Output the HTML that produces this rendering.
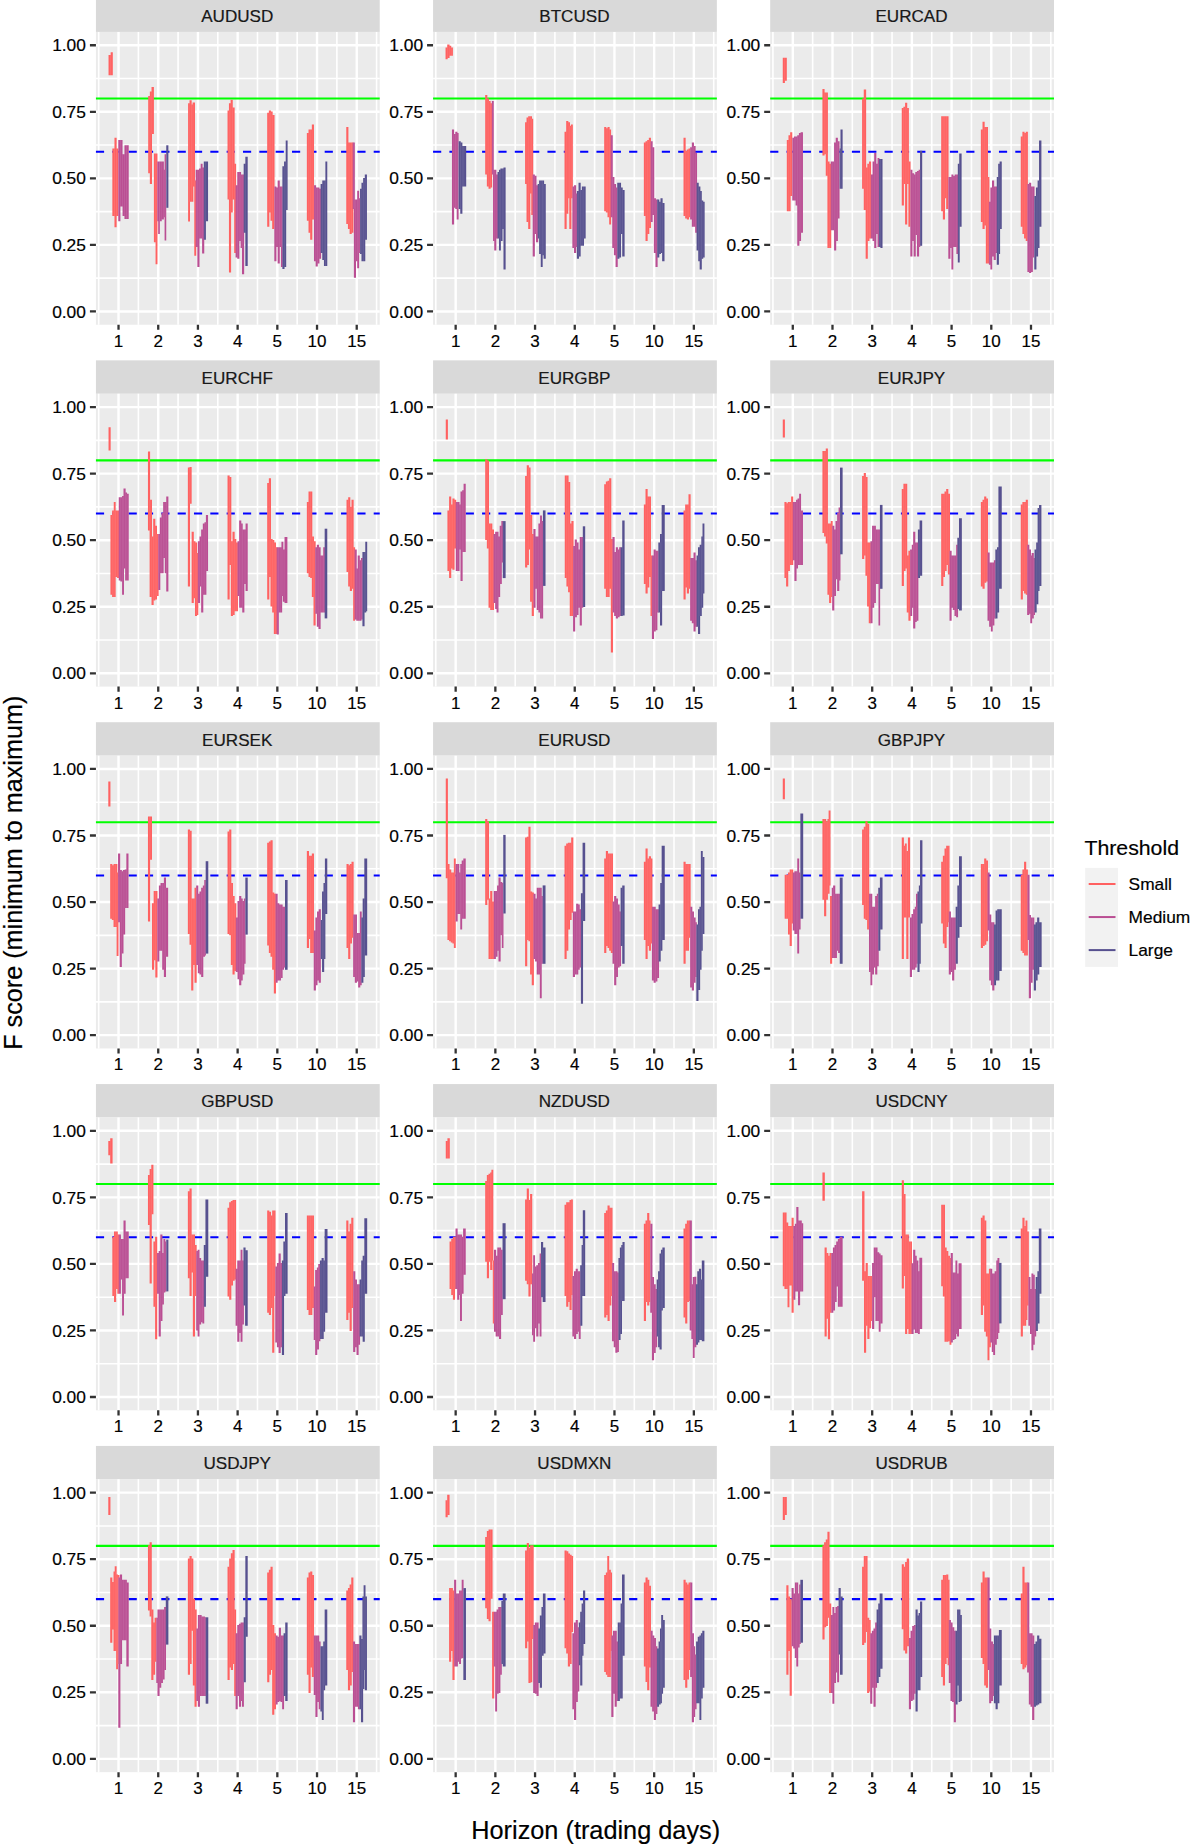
<!DOCTYPE html>
<html><head><meta charset="utf-8"><title>F score</title>
<style>html,body{margin:0;padding:0;background:#fff;}svg{display:block;}svg text{font-family:"Liberation Sans",sans-serif;stroke:#000;stroke-width:0.18px;}</style>
</head><body>
<svg width="1200" height="1845" viewBox="0 0 1200 1845" font-family="Liberation Sans, sans-serif">
<rect width="1200" height="1845" fill="#fff"/>
<g>
<rect x="95.93" y="-1.50" width="283.80" height="33.42" fill="#D9D9D9"/>
<text transform="translate(237.23,21.90) scale(1.03,1)" font-size="16.6" fill="#1A1A1A" text-anchor="middle">AUDUSD</text>
<rect x="95.93" y="31.92" width="283.80" height="292.82" fill="#EBEBEB"/>
<path d="M95.93 278.15H379.73M95.93 211.60H379.73M95.93 145.05H379.73M95.93 78.50H379.73M98.68 31.92V324.74M138.38 31.92V324.74M178.08 31.92V324.74M217.78 31.92V324.74M257.48 31.92V324.74M297.18 31.92V324.74M336.88 31.92V324.74M376.58 31.92V324.74" stroke="#fff" stroke-width="1.6" fill="none"/>
<path d="M95.93 311.43H379.73M95.93 244.88H379.73M95.93 178.33H379.73M95.93 111.78H379.73M95.93 45.23H379.73M118.53 31.92V324.74M158.23 31.92V324.74M197.93 31.92V324.74M237.63 31.92V324.74M277.33 31.92V324.74M317.03 31.92V324.74M356.73 31.92V324.74" stroke="#fff" stroke-width="2.4" fill="none"/>
<path d="M95.93 98.47H379.73" stroke="#00FF00" stroke-width="2.1" fill="none"/>
<path d="M95.93 151.71H379.73" stroke="#0000FF" stroke-width="2.1" stroke-dasharray="8.17 8.17" fill="none"/>
<path d="M108.54 55.0H110.67V75.2H108.54ZM110.67 52.2H112.81V75.2H110.67ZM112.34 148.4H114.47V216.1H112.34ZM114.47 137.7H116.61V227.2H114.47ZM116.38 148.4H118.51V216.1H116.38Z" fill="#FF6161"/>
<path d="M118.28 140.1H120.41V221.3H118.28ZM120.41 140.1H122.55V206.6H120.41ZM122.55 154.3H124.45V216.1H122.55ZM124.45 145.3H126.59V218.9H124.45ZM126.59 145.3H128.72V218.9H126.59Z" fill="#BA4E93"/>
<path d="M148.20 96.1H150.34V173.3H148.20ZM149.86 91.4H152.00V184.0H149.86ZM151.53 87.1H153.90V134.1H151.53ZM153.90 153.6H156.04V242.2H153.90ZM155.56 153.6H157.46V264.3H155.56Z" fill="#FF6161"/>
<path d="M157.22 161.4H159.60V221.3H157.22ZM158.18 161.4H159.84V233.9H158.18ZM159.60 161.4H161.74V221.3H159.60ZM161.74 161.4H163.88V219.6H161.74ZM163.40 169.8H165.30V217.2H163.40ZM164.59 154.3H166.25V240.5H164.59Z" fill="#BA4E93"/>
<path d="M166.25 145.3H168.39V207.8H166.25Z" fill="#56508F"/>
<path d="M188.10 103.2H190.00V221.5H188.10ZM189.53 100.2H191.66V201.8H189.53ZM191.19 104.4H193.32V201.8H191.19ZM192.61 102.5H194.99V186.4H192.61ZM194.28 180.4H196.18V255.7H194.28Z" fill="#FF6161"/>
<path d="M195.70 169.8H197.84V246.9H195.70ZM197.36 169.8H199.50V267.1H197.36ZM199.03 168.6H201.16V238.6H199.03ZM200.69 163.8H202.59V238.6H200.69ZM202.11 167.4H204.25V253.4H202.11Z" fill="#BA4E93"/>
<path d="M203.78 161.4H205.91V239.8H203.78ZM205.44 161.4H208.05V221.3H205.44Z" fill="#56508F"/>
<path d="M227.53 110.4H229.66V199.4H227.53ZM228.95 103.2H231.09V272.4H228.95ZM230.61 99.7H232.75V212.5H230.61ZM232.28 107.5H234.65V199.4H232.28ZM234.18 163.8H236.08V252.9H234.18Z" fill="#FF6161"/>
<path d="M235.60 185.2H237.74V257.6H235.60ZM237.26 172.1H239.40V258.8H237.26ZM238.93 172.1H241.06V241.0H238.93ZM240.59 174.5H242.49V248.1H240.59ZM242.01 174.5H244.15V274.2H242.01Z" fill="#BA4E93"/>
<path d="M243.68 163.8H245.81V232.7H243.68ZM245.34 156.7H247.71V265.9H245.34Z" fill="#56508F"/>
<path d="M267.19 112.8H269.33V226.8H267.19ZM268.85 110.4H270.99V212.5H268.85ZM270.51 111.6H272.65V220.8H270.51ZM272.18 115.1H274.55V229.1H272.18Z" fill="#FF6161"/>
<path d="M274.31 186.4H276.45V261.2H274.31ZM275.98 187.6H278.11V246.9H275.98ZM277.64 180.4H279.77V263.6H277.64ZM279.30 186.4H281.44V246.9H279.30ZM280.96 186.4H282.86V267.1H280.96Z" fill="#BA4E93"/>
<path d="M282.39 166.2H284.52V269.0H282.39ZM284.05 161.4H286.19V267.1H284.05ZM285.71 140.5H287.61V210.1H285.71Z" fill="#56508F"/>
<path d="M306.85 132.9H308.99V220.8H306.85ZM308.51 129.4H310.65V232.7H308.51ZM310.18 129.4H312.31V239.8H310.18ZM311.84 124.6H313.98V219.6H311.84Z" fill="#FF6161"/>
<path d="M313.98 185.2H316.11V261.2H313.98ZM315.64 187.6H317.77V266.6H315.64ZM317.30 187.6H319.44V263.6H317.30ZM318.96 188.8H321.10V258.8H318.96Z" fill="#BA4E93"/>
<path d="M320.62 184.0H322.76V252.9H320.62ZM322.29 180.4H324.43V260.0H322.29ZM323.95 180.4H325.61V265.9H323.95ZM325.38 161.4H327.27V265.9H325.38Z" fill="#56508F"/>
<path d="M346.27 127.0H348.41V223.9H346.27ZM347.94 142.4H350.08V229.1H347.94ZM349.60 142.4H351.74V233.9H349.60ZM351.26 142.4H353.40V232.7H351.26Z" fill="#FF6161"/>
<path d="M352.69 142.4H354.82V208.9H352.69ZM353.88 199.4H356.01V277.8H353.88ZM355.54 199.4H357.68V261.2H355.54ZM357.20 190.7H359.10V268.3H357.20ZM358.62 198.2H360.53V252.9H358.62Z" fill="#BA4E93"/>
<path d="M360.05 188.8H362.19V254.1H360.05ZM361.48 182.8H363.61V261.2H361.48ZM363.14 178.1H365.28V261.2H363.14ZM364.80 174.5H366.94V239.8H364.80Z" fill="#56508F"/>
<path d="M110.67 55.0V75.2M114.47 148.4V216.1M116.49 148.4V216.1M118.39 148.4V216.1M120.41 140.1V206.6M122.55 154.3V206.6M124.45 154.3V216.1M126.59 145.3V218.9M150.10 96.1V173.3M151.76 91.4V134.1M155.80 153.6V242.2M157.34 161.4V221.3M159.60 161.4V221.3M159.72 161.4V221.3M161.74 161.4V219.6M163.64 169.8V217.2M164.94 169.8V217.2M166.25 154.3V207.8M189.76 103.2V201.8M191.43 104.4V201.8M192.97 104.4V186.4M194.63 180.4V186.4M195.94 180.4V246.9M197.60 169.8V246.9M199.26 169.8V238.6M200.93 168.6V238.6M202.35 167.4V238.6M204.01 167.4V239.8M205.68 161.4V221.3M229.31 110.4V199.4M230.85 103.2V212.5M232.51 107.5V199.4M234.41 163.8V199.4M235.84 185.2V252.9M237.50 185.2V257.6M239.16 172.1V241.0M240.82 174.5V241.0M242.25 174.5V248.1M243.91 174.5V232.7M245.57 163.8V232.7M269.09 112.8V212.5M270.75 111.6V212.5M272.41 115.1V220.8M274.43 186.4V229.1M276.21 187.6V246.9M277.88 187.6V246.9M279.54 186.4V246.9M281.20 186.4V246.9M282.62 186.4V267.1M284.29 166.2V267.1M285.95 161.4V210.1M308.75 132.9V220.8M310.41 129.4V232.7M312.07 129.4V219.6M313.98 185.2V219.6M315.88 187.6V261.2M317.54 187.6V263.6M319.20 188.8V258.8M320.86 188.8V252.9M322.53 184.0V252.9M324.19 180.4V260.0M325.49 180.4V265.9M348.18 142.4V223.9M349.84 142.4V229.1M351.50 142.4V232.7M353.04 142.4V208.9M354.35 199.4V208.9M355.77 199.4V261.2M357.44 199.4V261.2M358.86 198.2V252.9M360.29 198.2V252.9M361.83 188.8V254.1M363.38 182.8V261.2M365.04 178.1V239.8" stroke="#EBEBEB" stroke-width="0.11" fill="none"/>
<path d="M89.93 311.43H95.93M89.93 244.88H95.93M89.93 178.33H95.93M89.93 111.78H95.93M89.93 45.23H95.93M118.53 324.74V329.84M158.23 324.74V329.84M197.93 324.74V329.84M237.63 324.74V329.84M277.33 324.74V329.84M317.03 324.74V329.84M356.73 324.74V329.84" stroke="#333" stroke-width="2.3" fill="none"/>
<text transform="translate(85.93,317.58) scale(1.06,1)" font-size="16.4" fill="#000" text-anchor="end">0.00</text>
<text transform="translate(85.93,251.03) scale(1.06,1)" font-size="16.4" fill="#000" text-anchor="end">0.25</text>
<text transform="translate(85.93,184.48) scale(1.06,1)" font-size="16.4" fill="#000" text-anchor="end">0.50</text>
<text transform="translate(85.93,117.93) scale(1.06,1)" font-size="16.4" fill="#000" text-anchor="end">0.75</text>
<text transform="translate(85.93,51.38) scale(1.06,1)" font-size="16.4" fill="#000" text-anchor="end">1.00</text>
<text x="118.53" y="346.64" font-size="17.0" fill="#000" text-anchor="middle">1</text>
<text x="158.23" y="346.64" font-size="17.0" fill="#000" text-anchor="middle">2</text>
<text x="197.93" y="346.64" font-size="17.0" fill="#000" text-anchor="middle">3</text>
<text x="237.63" y="346.64" font-size="17.0" fill="#000" text-anchor="middle">4</text>
<text x="277.33" y="346.64" font-size="17.0" fill="#000" text-anchor="middle">5</text>
<text x="317.03" y="346.64" font-size="17.0" fill="#000" text-anchor="middle">10</text>
<text x="356.73" y="346.64" font-size="17.0" fill="#000" text-anchor="middle">15</text>
</g>
<g>
<rect x="433.06" y="-1.50" width="283.80" height="33.42" fill="#D9D9D9"/>
<text transform="translate(574.36,21.90) scale(1.03,1)" font-size="16.6" fill="#1A1A1A" text-anchor="middle">BTCUSD</text>
<rect x="433.06" y="31.92" width="283.80" height="292.82" fill="#EBEBEB"/>
<path d="M433.06 278.15H716.86M433.06 211.60H716.86M433.06 145.05H716.86M433.06 78.50H716.86M435.81 31.92V324.74M475.51 31.92V324.74M515.21 31.92V324.74M554.91 31.92V324.74M594.61 31.92V324.74M634.31 31.92V324.74M674.01 31.92V324.74M713.71 31.92V324.74" stroke="#fff" stroke-width="1.6" fill="none"/>
<path d="M433.06 311.43H716.86M433.06 244.88H716.86M433.06 178.33H716.86M433.06 111.78H716.86M433.06 45.23H716.86M455.66 31.92V324.74M495.36 31.92V324.74M535.06 31.92V324.74M574.76 31.92V324.74M614.46 31.92V324.74M654.16 31.92V324.74M693.86 31.92V324.74" stroke="#fff" stroke-width="2.4" fill="none"/>
<path d="M433.06 98.47H716.86" stroke="#00FF00" stroke-width="2.1" fill="none"/>
<path d="M433.06 151.71H716.86" stroke="#0000FF" stroke-width="2.1" stroke-dasharray="8.17 8.17" fill="none"/>
<path d="M445.54 47.4H447.68V59.3H445.54ZM447.20 44.4H449.57V58.1H447.20ZM449.10 45.8H451.24V55.8H449.10ZM451.24 47.4H452.90V55.8H451.24Z" fill="#FF6161"/>
<path d="M451.95 129.4H454.09V224.4H451.95ZM453.61 134.1H455.75V207.8H453.61ZM455.27 131.8H457.41V208.9H455.27ZM456.70 132.9H458.60V219.6H456.70Z" fill="#BA4E93"/>
<path d="M458.60 141.2H460.74V208.9H458.60ZM460.26 142.4H462.40V213.7H460.26ZM461.93 146.0H464.06V186.4H461.93ZM463.59 146.0H466.20V186.4H463.59Z" fill="#56508F"/>
<path d="M485.20 94.9H487.34V174.5H485.20ZM486.86 98.5H489.00V186.4H486.86ZM488.52 100.9H490.66V188.8H488.52ZM490.19 103.2H492.09V187.6H490.19Z" fill="#FF6161"/>
<path d="M491.85 100.9H493.75V174.5H491.85ZM493.04 169.8H495.18V241.0H493.04ZM494.23 169.8H496.36V250.5H494.23ZM495.89 174.5H498.02V238.6H495.89Z" fill="#BA4E93"/>
<path d="M497.55 172.1H499.69V238.6H497.55ZM498.98 169.8H500.88V250.5H498.98ZM500.40 168.6H502.54V241.0H500.40ZM502.06 168.6H503.96V229.1H502.06ZM503.49 167.4H505.62V269.5H503.49Z" fill="#56508F"/>
<path d="M525.10 122.2H527.24V184.0H525.10ZM526.52 117.5H528.66V222.0H526.52ZM528.19 116.3H530.33V229.1H528.19ZM529.85 116.3H531.99V193.5H529.85ZM531.27 118.7H533.17V214.9H531.27Z" fill="#FF6161"/>
<path d="M532.70 174.5H534.84V256.4H532.70ZM534.36 175.7H536.50V233.9H534.36ZM536.02 185.2H538.16V242.2H536.02Z" fill="#BA4E93"/>
<path d="M537.69 184.0H539.83V238.6H537.69ZM539.11 180.4H541.25V254.1H539.11ZM540.77 180.4H542.67V267.1H540.77ZM542.20 180.4H544.10V255.2H542.20ZM543.62 184.0H545.76V258.8H543.62Z" fill="#56508F"/>
<path d="M564.52 131.8H566.66V229.1H564.52ZM566.19 121.1H568.33V213.7H566.19ZM567.85 122.2H569.99V198.2H567.85ZM569.27 125.8H571.41V229.1H569.27ZM570.94 124.6H572.84V198.2H570.94Z" fill="#FF6161"/>
<path d="M572.36 186.4H574.50V248.1H572.36ZM574.02 185.2H576.16V252.9H574.02ZM575.45 193.5H577.35V246.9H575.45Z" fill="#BA4E93"/>
<path d="M576.88 191.1H579.01V258.8H576.88ZM578.54 182.8H580.67V256.4H578.54ZM580.20 189.9H582.34V245.8H580.20ZM581.86 186.4H584.00V245.8H581.86ZM583.52 186.4H585.66V238.6H583.52Z" fill="#56508F"/>
<path d="M604.19 127.0H606.33V211.3H604.19ZM605.85 128.2H607.99V212.5H605.85ZM607.51 127.0H609.65V217.2H607.51ZM609.17 129.4H611.08V224.4H609.17Z" fill="#FF6161"/>
<path d="M610.60 135.3H612.74V217.2H610.60ZM612.26 176.9H614.40V248.1H612.26ZM613.92 184.0H616.06V255.2H613.92ZM615.59 187.6H617.73V267.1H615.59Z" fill="#BA4E93"/>
<path d="M617.25 182.8H619.39V258.8H617.25ZM618.91 182.8H621.05V257.6H618.91ZM620.58 187.6H622.71V233.9H620.58ZM622.24 189.9H624.61V256.4H622.24Z" fill="#56508F"/>
<path d="M643.85 142.4H645.99V216.1H643.85ZM645.51 141.2H647.65V241.0H645.51ZM647.17 140.1H649.31V233.9H647.17ZM648.84 137.7H650.98V227.9H648.84Z" fill="#FF6161"/>
<path d="M650.50 141.2H652.64V222.0H650.50ZM652.16 147.2H654.30V214.9H652.16ZM653.83 198.2H655.96V252.9H653.83ZM655.49 199.4H657.62V267.1H655.49Z" fill="#BA4E93"/>
<path d="M657.15 199.4H659.29V257.6H657.15ZM658.81 201.8H660.95V254.1H658.81ZM660.48 198.2H662.61V252.9H660.48ZM662.14 203.0H664.51V261.2H662.14Z" fill="#56508F"/>
<path d="M683.51 137.7H685.65V216.1H683.51ZM685.17 150.8H687.31V218.4H685.17ZM686.84 149.6H688.98V219.6H686.84ZM688.50 148.4H690.64V217.2H688.50Z" fill="#FF6161"/>
<path d="M690.16 147.2H692.30V219.6H690.16ZM691.83 142.4H693.96V226.8H691.83ZM693.49 146.0H695.62V226.8H693.49ZM695.15 153.1H697.05V232.7H695.15Z" fill="#BA4E93"/>
<path d="M696.58 182.8H698.71V250.5H696.58ZM698.24 186.4H700.38V261.2H698.24ZM699.66 191.1H701.80V269.5H699.66ZM701.33 200.6H703.23V258.8H701.33ZM702.75 201.8H704.65V257.6H702.75Z" fill="#56508F"/>
<path d="M447.44 47.4V58.1M449.34 45.8V55.8M451.24 47.4V55.8M453.85 134.1V207.8M455.51 134.1V207.8M457.06 132.9V208.9M458.60 141.2V208.9M460.50 142.4V208.9M462.16 146.0V186.4M463.82 146.0V186.4M487.10 98.5V174.5M488.76 100.9V186.4M490.43 103.2V187.6M491.97 103.2V174.5M493.39 169.8V174.5M494.70 169.8V241.0M496.12 174.5V238.6M497.79 174.5V238.6M499.33 172.1V238.6M500.64 169.8V241.0M502.30 168.6V229.1M503.73 168.6V229.1M526.88 122.2V184.0M528.42 117.5V222.0M530.09 116.3V193.5M531.63 118.7V193.5M532.94 174.5V214.9M534.60 175.7V233.9M536.26 185.2V233.9M537.92 185.2V238.6M539.47 184.0V238.6M541.01 180.4V254.1M542.44 180.4V255.2M543.86 184.0V255.2M566.42 131.8V213.7M568.09 122.2V198.2M569.63 125.8V198.2M571.17 125.8V198.2M572.60 186.4V198.2M574.26 186.4V248.1M575.81 193.5V246.9M577.11 193.5V246.9M578.78 191.1V256.4M580.44 189.9V245.8M582.10 189.9V245.8M583.76 186.4V238.6M606.09 128.2V211.3M607.75 128.2V212.5M609.41 129.4V217.2M610.84 135.3V217.2M612.50 176.9V217.2M614.16 184.0V248.1M615.83 187.6V255.2M617.49 187.6V258.8M619.15 182.8V257.6M620.81 187.6V233.9M622.47 189.9V233.9M645.75 142.4V216.1M647.41 141.2V233.9M649.08 140.1V227.9M650.74 141.2V222.0M652.40 147.2V214.9M654.06 198.2V214.9M655.72 199.4V252.9M657.39 199.4V257.6M659.05 201.8V254.1M660.71 201.8V252.9M662.38 203.0V252.9M685.41 150.8V216.1M687.08 150.8V218.4M688.74 149.6V217.2M690.40 148.4V217.2M692.06 147.2V219.6M693.73 146.0V226.8M695.39 153.1V226.8M696.81 182.8V232.7M698.48 186.4V250.5M700.02 191.1V261.2M701.56 200.6V258.8M702.99 201.8V257.6" stroke="#EBEBEB" stroke-width="0.11" fill="none"/>
<path d="M427.06 311.43H433.06M427.06 244.88H433.06M427.06 178.33H433.06M427.06 111.78H433.06M427.06 45.23H433.06M455.66 324.74V329.84M495.36 324.74V329.84M535.06 324.74V329.84M574.76 324.74V329.84M614.46 324.74V329.84M654.16 324.74V329.84M693.86 324.74V329.84" stroke="#333" stroke-width="2.3" fill="none"/>
<text transform="translate(423.06,317.58) scale(1.06,1)" font-size="16.4" fill="#000" text-anchor="end">0.00</text>
<text transform="translate(423.06,251.03) scale(1.06,1)" font-size="16.4" fill="#000" text-anchor="end">0.25</text>
<text transform="translate(423.06,184.48) scale(1.06,1)" font-size="16.4" fill="#000" text-anchor="end">0.50</text>
<text transform="translate(423.06,117.93) scale(1.06,1)" font-size="16.4" fill="#000" text-anchor="end">0.75</text>
<text transform="translate(423.06,51.38) scale(1.06,1)" font-size="16.4" fill="#000" text-anchor="end">1.00</text>
<text x="455.66" y="346.64" font-size="17.0" fill="#000" text-anchor="middle">1</text>
<text x="495.36" y="346.64" font-size="17.0" fill="#000" text-anchor="middle">2</text>
<text x="535.06" y="346.64" font-size="17.0" fill="#000" text-anchor="middle">3</text>
<text x="574.76" y="346.64" font-size="17.0" fill="#000" text-anchor="middle">4</text>
<text x="614.46" y="346.64" font-size="17.0" fill="#000" text-anchor="middle">5</text>
<text x="654.16" y="346.64" font-size="17.0" fill="#000" text-anchor="middle">10</text>
<text x="693.86" y="346.64" font-size="17.0" fill="#000" text-anchor="middle">15</text>
</g>
<g>
<rect x="770.19" y="-1.50" width="283.80" height="33.42" fill="#D9D9D9"/>
<text transform="translate(911.49,21.90) scale(1.03,1)" font-size="16.6" fill="#1A1A1A" text-anchor="middle">EURCAD</text>
<rect x="770.19" y="31.92" width="283.80" height="292.82" fill="#EBEBEB"/>
<path d="M770.19 278.15H1053.99M770.19 211.60H1053.99M770.19 145.05H1053.99M770.19 78.50H1053.99M772.94 31.92V324.74M812.64 31.92V324.74M852.34 31.92V324.74M892.04 31.92V324.74M931.74 31.92V324.74M971.44 31.92V324.74M1011.14 31.92V324.74M1050.84 31.92V324.74" stroke="#fff" stroke-width="1.6" fill="none"/>
<path d="M770.19 311.43H1053.99M770.19 244.88H1053.99M770.19 178.33H1053.99M770.19 111.78H1053.99M770.19 45.23H1053.99M792.79 31.92V324.74M832.49 31.92V324.74M872.19 31.92V324.74M911.89 31.92V324.74M951.59 31.92V324.74M991.29 31.92V324.74M1030.99 31.92V324.74" stroke="#fff" stroke-width="2.4" fill="none"/>
<path d="M770.19 98.47H1053.99" stroke="#00FF00" stroke-width="2.1" fill="none"/>
<path d="M770.19 151.71H1053.99" stroke="#0000FF" stroke-width="2.1" stroke-dasharray="8.17 8.17" fill="none"/>
<path d="M782.77 57.7H784.91V83.1H782.77ZM784.44 57.7H786.81V80.7H784.44ZM786.81 140.1H788.95V211.3H786.81ZM788.48 135.3H790.61V211.3H788.48ZM790.14 132.2H792.27V195.9H790.14Z" fill="#FF6161"/>
<path d="M792.27 137.7H794.41V200.6H792.27ZM793.94 136.5H796.08V200.6H793.94ZM795.60 136.5H797.74V205.4H795.60ZM797.26 135.3H799.40V245.8H797.26ZM798.92 132.9H801.06V241.0H798.92ZM800.59 132.2H802.96V232.7H800.59Z" fill="#BA4E93"/>
<path d="M822.44 89.0H824.58V155.5H822.44ZM824.10 92.6H826.24V154.3H824.10ZM825.76 92.6H827.90V175.7H825.76ZM827.42 161.4H829.56V248.1H827.42ZM829.09 163.8H831.23V248.1H829.09Z" fill="#FF6161"/>
<path d="M830.75 161.4H832.89V230.3H830.75ZM832.41 161.4H834.55V230.3H832.41ZM834.08 142.4H836.21V250.5H834.08ZM835.74 137.7H837.88V241.0H835.74ZM837.40 141.2H839.54V218.4H837.40Z" fill="#BA4E93"/>
<path d="M839.54 148.4H841.20V188.8H839.54ZM840.49 129.4H842.62V188.8H840.49Z" fill="#56508F"/>
<path d="M862.10 98.5H864.24V188.8H862.10ZM863.76 89.5H866.14V210.1H863.76ZM865.66 167.4H867.80V258.8H865.66ZM867.33 163.8H869.46V241.0H867.33ZM868.99 161.4H871.12V238.6H868.99Z" fill="#FF6161"/>
<path d="M870.89 174.5H873.02V238.6H870.89ZM872.55 161.4H874.69V241.0H872.55ZM874.21 153.1H876.35V248.1H874.21ZM875.88 163.8H878.01V233.9H875.88ZM877.54 157.9H879.44V246.9H877.54Z" fill="#BA4E93"/>
<path d="M878.96 159.1H880.86V246.9H878.96ZM880.39 159.1H882.52V248.1H880.39Z" fill="#56508F"/>
<path d="M901.76 108.0H903.90V205.4H901.76ZM903.42 106.8H905.56V184.0H903.42ZM905.09 102.8H907.23V224.4H905.09ZM906.75 108.0H908.89V184.0H906.75ZM908.41 161.4H910.55V226.8H908.41Z" fill="#FF6161"/>
<path d="M910.31 169.8H912.45V256.4H910.31ZM911.98 173.3H914.11V241.0H911.98ZM913.64 174.5H915.77V256.4H913.64ZM915.30 172.1H917.44V235.1H915.30ZM916.96 170.9H919.10V256.4H916.96ZM918.62 169.8H920.29V246.9H918.62Z" fill="#BA4E93"/>
<path d="M920.05 150.8H922.19V245.8H920.05Z" fill="#56508F"/>
<path d="M941.19 116.3H943.33V211.3H941.19ZM942.85 116.3H944.99V219.6H942.85ZM944.51 116.3H946.65V198.2H944.51ZM946.17 116.3H948.55V208.9H946.17Z" fill="#FF6161"/>
<path d="M948.31 176.9H950.45V258.8H948.31ZM949.98 176.9H952.11V248.1H949.98ZM951.40 174.5H953.30V269.5H951.40ZM953.06 175.7H955.20V246.9H953.06ZM954.73 174.5H956.86V246.9H954.73ZM956.39 174.5H958.29V254.1H956.39Z" fill="#BA4E93"/>
<path d="M957.81 163.8H959.71V262.4H957.81ZM959.24 153.6H961.61V226.8H959.24Z" fill="#56508F"/>
<path d="M980.85 129.4H982.99V222.0H980.85ZM982.51 121.8H984.65V229.1H982.51ZM984.17 127.0H986.31V225.6H984.17ZM985.84 127.0H987.98V263.6H985.84ZM987.50 176.9H989.40V263.6H987.50Z" fill="#FF6161"/>
<path d="M988.92 201.8H991.06V264.8H988.92ZM990.35 187.6H992.25V269.5H990.35ZM992.01 180.4H994.15V256.4H992.01ZM993.67 186.4H995.81V260.0H993.67ZM995.34 186.4H997.24V252.9H995.34Z" fill="#BA4E93"/>
<path d="M996.76 176.9H998.90V264.8H996.76ZM998.19 163.8H1000.09V254.1H998.19ZM999.61 161.4H1001.75V229.1H999.61Z" fill="#56508F"/>
<path d="M1020.75 136.5H1022.89V226.8H1020.75ZM1022.41 131.8H1024.55V233.9H1022.41ZM1024.08 132.9H1026.21V238.6H1024.08ZM1025.74 131.8H1027.88V241.0H1025.74Z" fill="#FF6161"/>
<path d="M1027.40 184.0H1029.54V271.9H1027.40ZM1029.06 182.8H1031.20V273.1H1029.06ZM1030.72 186.4H1032.86V271.9H1030.72ZM1032.39 186.4H1034.53V257.6H1032.39Z" fill="#BA4E93"/>
<path d="M1034.29 195.9H1036.42V269.5H1034.29ZM1035.95 187.6H1038.09V256.4H1035.95ZM1037.61 180.4H1039.51V248.1H1037.61ZM1039.04 140.5H1041.41V226.8H1039.04Z" fill="#56508F"/>
<path d="M784.67 57.7V80.7M788.71 140.1V211.3M790.38 135.3V195.9M792.27 137.7V195.9M794.17 137.7V200.6M795.84 136.5V200.6M797.50 136.5V205.4M799.16 135.3V241.0M800.83 132.9V232.7M824.34 92.6V154.3M826.00 92.6V154.3M827.66 161.4V175.7M829.33 163.8V248.1M830.99 163.8V230.3M832.65 161.4V230.3M834.31 161.4V230.3M835.97 142.4V241.0M837.64 141.2V218.4M839.54 148.4V188.8M840.84 148.4V188.8M864.00 98.5V188.8M865.90 167.4V210.1M867.56 167.4V241.0M869.22 163.8V238.6M871.01 174.5V238.6M872.79 174.5V238.6M874.45 161.4V241.0M876.11 163.8V233.9M877.78 163.8V233.9M879.20 159.1V246.9M880.62 159.1V246.9M903.66 108.0V184.0M905.33 106.8V184.0M906.99 108.0V184.0M908.65 161.4V184.0M910.43 169.8V226.8M912.21 173.3V241.0M913.88 174.5V241.0M915.54 174.5V235.1M917.20 172.1V235.1M918.86 170.9V246.9M920.17 169.8V245.8M943.09 116.3V211.3M944.75 116.3V198.2M946.41 116.3V198.2M948.43 176.9V208.9M950.21 176.9V248.1M951.76 176.9V248.1M953.18 175.7V246.9M954.96 175.7V246.9M956.62 174.5V246.9M958.05 174.5V254.1M959.47 163.8V226.8M982.75 129.4V222.0M984.41 127.0V225.6M986.08 127.0V225.6M987.74 176.9V263.6M989.16 201.8V263.6M990.71 201.8V264.8M992.13 187.6V256.4M993.91 186.4V256.4M995.58 186.4V252.9M997.00 186.4V252.9M998.54 176.9V254.1M999.85 163.8V229.1M1022.65 136.5V226.8M1024.31 132.9V233.9M1025.97 132.9V238.6M1027.64 184.0V241.0M1029.30 184.0V271.9M1030.96 186.4V271.9M1032.62 186.4V257.6M1034.41 195.9V257.6M1036.19 195.9V256.4M1037.85 187.6V248.1M1039.28 180.4V226.8" stroke="#EBEBEB" stroke-width="0.11" fill="none"/>
<path d="M764.19 311.43H770.19M764.19 244.88H770.19M764.19 178.33H770.19M764.19 111.78H770.19M764.19 45.23H770.19M792.79 324.74V329.84M832.49 324.74V329.84M872.19 324.74V329.84M911.89 324.74V329.84M951.59 324.74V329.84M991.29 324.74V329.84M1030.99 324.74V329.84" stroke="#333" stroke-width="2.3" fill="none"/>
<text transform="translate(760.19,317.58) scale(1.06,1)" font-size="16.4" fill="#000" text-anchor="end">0.00</text>
<text transform="translate(760.19,251.03) scale(1.06,1)" font-size="16.4" fill="#000" text-anchor="end">0.25</text>
<text transform="translate(760.19,184.48) scale(1.06,1)" font-size="16.4" fill="#000" text-anchor="end">0.50</text>
<text transform="translate(760.19,117.93) scale(1.06,1)" font-size="16.4" fill="#000" text-anchor="end">0.75</text>
<text transform="translate(760.19,51.38) scale(1.06,1)" font-size="16.4" fill="#000" text-anchor="end">1.00</text>
<text x="792.79" y="346.64" font-size="17.0" fill="#000" text-anchor="middle">1</text>
<text x="832.49" y="346.64" font-size="17.0" fill="#000" text-anchor="middle">2</text>
<text x="872.19" y="346.64" font-size="17.0" fill="#000" text-anchor="middle">3</text>
<text x="911.89" y="346.64" font-size="17.0" fill="#000" text-anchor="middle">4</text>
<text x="951.59" y="346.64" font-size="17.0" fill="#000" text-anchor="middle">5</text>
<text x="991.29" y="346.64" font-size="17.0" fill="#000" text-anchor="middle">10</text>
<text x="1030.99" y="346.64" font-size="17.0" fill="#000" text-anchor="middle">15</text>
</g>
<g>
<rect x="95.93" y="360.36" width="283.80" height="33.42" fill="#D9D9D9"/>
<text transform="translate(237.23,383.76) scale(1.03,1)" font-size="16.6" fill="#1A1A1A" text-anchor="middle">EURCHF</text>
<rect x="95.93" y="393.78" width="283.80" height="292.82" fill="#EBEBEB"/>
<path d="M95.93 640.01H379.73M95.93 573.47H379.73M95.93 506.92H379.73M95.93 440.37H379.73M98.68 393.78V686.60M138.38 393.78V686.60M178.08 393.78V686.60M217.78 393.78V686.60M257.48 393.78V686.60M297.18 393.78V686.60M336.88 393.78V686.60M376.58 393.78V686.60" stroke="#fff" stroke-width="1.6" fill="none"/>
<path d="M95.93 673.29H379.73M95.93 606.74H379.73M95.93 540.19H379.73M95.93 473.64H379.73M95.93 407.09H379.73M118.53 393.78V686.60M158.23 393.78V686.60M197.93 393.78V686.60M237.63 393.78V686.60M277.33 393.78V686.60M317.03 393.78V686.60M356.73 393.78V686.60" stroke="#fff" stroke-width="2.4" fill="none"/>
<path d="M95.93 460.33H379.73" stroke="#00FF00" stroke-width="2.1" fill="none"/>
<path d="M95.93 513.57H379.73" stroke="#0000FF" stroke-width="2.1" stroke-dasharray="8.17 8.17" fill="none"/>
<path d="M108.54 427.2H110.67V450.5H108.54ZM110.44 515.1H112.58V594.7H110.44ZM112.10 510.4H114.24V597.1H112.10ZM113.76 502.1H115.66V597.1H113.76ZM115.42 510.4H117.56V576.9H115.42ZM117.09 510.4H119.22V578.1H117.09Z" fill="#FF6161"/>
<path d="M118.75 497.3H120.89V580.4H118.75ZM120.41 497.3H122.55V581.6H120.41ZM122.08 496.1H123.97V594.7H122.08ZM123.50 488.5H125.64V568.6H123.50ZM125.16 492.6H127.06V580.4H125.16ZM126.59 493.8H128.72V580.4H126.59Z" fill="#BA4E93"/>
<path d="M147.96 451.5H150.10V530.6H147.96ZM149.62 499.7H152.00V597.1H149.62ZM151.53 536.5H153.66V604.9H151.53ZM153.19 518.7H155.32V600.6H153.19ZM154.85 525.8H156.99V599.4H154.85ZM156.51 534.1H158.65V595.9H156.51Z" fill="#FF6161"/>
<path d="M158.18 534.1H160.31V589.9H158.18ZM159.84 517.5H161.98V573.3H159.84ZM161.50 512.8H163.64V573.3H161.50ZM163.16 502.1H165.30V557.9H163.16ZM164.82 502.1H166.73V573.3H164.82ZM166.25 496.6H168.39V591.6H166.25Z" fill="#BA4E93"/>
<path d="M187.86 467.6H190.00V586.4H187.86ZM189.53 467.1H191.66V503.7H189.53ZM191.66 531.8H193.80V603.0H191.66ZM193.32 541.2H195.46V598.2H193.32ZM194.99 542.4H197.12V616.1H194.99ZM196.41 553.1H198.31V614.9H196.41Z" fill="#FF6161"/>
<path d="M197.84 541.2H199.98V603.0H197.84ZM199.50 536.5H201.64V586.4H199.50ZM201.16 529.4H203.30V612.5H201.16ZM202.82 523.4H204.96V594.7H202.82ZM204.49 522.2H206.39V594.7H204.49ZM205.91 515.1H208.05V570.9H205.91Z" fill="#BA4E93"/>
<path d="M227.53 475.5H229.66V599.4H227.53ZM229.19 477.1H231.33V565.0H229.19ZM230.85 541.2H232.99V616.1H230.85ZM232.51 531.8H234.65V614.9H232.51ZM234.18 538.9H236.31V611.3H234.18ZM235.84 542.4H237.97V611.3H235.84Z" fill="#FF6161"/>
<path d="M237.50 541.2H239.64V595.9H237.50ZM239.16 520.4H241.30V607.8H239.16ZM240.83 523.4H242.72V607.8H240.83ZM242.25 529.4H244.39V612.5H242.25ZM243.91 529.4H246.05V584.0H243.91ZM245.58 523.4H247.71V591.1H245.58Z" fill="#BA4E93"/>
<path d="M267.19 483.1H269.33V599.4H267.19ZM268.85 478.3H270.99V576.9H268.85ZM270.51 538.9H272.65V606.6H270.51ZM272.18 540.1H274.31V612.5H272.18ZM273.84 542.4H275.98V633.9H273.84ZM275.50 547.2H277.40V633.9H275.50Z" fill="#FF6161"/>
<path d="M276.69 547.2H278.83V634.4H276.69ZM278.35 547.2H280.49V612.5H278.35ZM280.01 547.2H282.15V612.5H280.01ZM281.44 541.7H283.34V595.9H281.44ZM282.86 549.6H285.00V601.8H282.86ZM284.52 537.0H287.38V603.0H284.52Z" fill="#BA4E93"/>
<path d="M306.85 502.1H308.99V573.3H306.85ZM308.51 491.4H310.65V576.9H308.51ZM310.18 491.4H312.31V578.1H310.18ZM311.84 536.5H313.98V597.1H311.84ZM313.50 541.2H315.64V625.6H313.50Z" fill="#FF6161"/>
<path d="M315.16 547.2H317.30V613.7H315.16ZM316.83 544.8H318.96V626.8H316.83ZM318.49 547.2H320.62V629.1H318.49ZM320.15 555.5H322.29V612.5H320.15ZM321.81 555.5H323.71V612.5H321.81ZM323.24 547.2H325.14V612.5H323.24Z" fill="#BA4E93"/>
<path d="M324.66 528.7H327.27V618.4H324.66Z" fill="#56508F"/>
<path d="M346.51 499.7H348.65V572.1H346.51ZM348.18 497.3H350.31V586.4H348.18ZM349.84 506.8H351.98V591.1H349.84ZM351.50 499.7H353.64V588.8H351.50ZM353.16 547.2H355.06V620.8H353.16Z" fill="#FF6161"/>
<path d="M354.59 549.6H356.73V619.6H354.59ZM356.25 568.6H358.15V620.8H356.25ZM357.68 555.5H359.81V620.8H357.68ZM359.34 560.2H361.48V620.8H359.34ZM361.00 557.9H362.90V619.6H361.00Z" fill="#BA4E93"/>
<path d="M362.43 551.9H364.56V626.3H362.43ZM364.09 551.9H366.23V612.5H364.09ZM365.28 541.7H367.18V611.3H365.28Z" fill="#56508F"/>
<path d="M112.34 515.1V594.7M114.00 510.4V597.1M115.54 510.4V576.9M117.33 510.4V576.9M118.99 510.4V578.1M120.65 497.3V580.4M122.31 497.3V581.6M123.74 496.1V568.6M125.40 492.6V568.6M126.83 493.8V580.4M149.86 499.7V530.6M151.76 536.5V597.1M153.43 536.5V600.6M155.09 525.8V599.4M156.75 534.1V595.9M158.41 534.1V589.9M160.07 534.1V573.3M161.74 517.5V573.3M163.40 512.8V557.9M165.06 502.1V557.9M166.49 502.1V573.3M189.76 467.6V503.7M193.56 541.2V598.2M195.23 542.4V598.2M196.77 553.1V614.9M198.07 553.1V603.0M199.74 541.2V586.4M201.40 536.5V586.4M203.06 529.4V594.7M204.73 523.4V594.7M206.15 522.2V570.9M229.43 477.1V565.0M231.09 541.2V565.0M232.75 541.2V614.9M234.41 538.9V611.3M236.07 542.4V611.3M237.74 542.4V595.9M239.40 541.2V595.9M241.06 523.4V607.8M242.49 529.4V607.8M244.15 529.4V584.0M245.81 529.4V584.0M269.09 483.1V576.9M270.75 538.9V576.9M272.41 540.1V606.6M274.07 542.4V612.5M275.74 547.2V633.9M277.04 547.2V633.9M278.59 547.2V612.5M280.25 547.2V612.5M281.79 547.2V595.9M283.10 549.6V595.9M284.76 549.6V601.8M308.75 502.1V573.3M310.41 491.4V576.9M312.07 536.5V578.1M313.74 541.2V597.1M315.40 547.2V613.7M317.06 547.2V613.7M318.73 547.2V626.8M320.39 555.5V612.5M322.05 555.5V612.5M323.48 555.5V612.5M324.90 547.2V612.5M348.41 499.7V572.1M350.07 506.8V586.4M351.74 506.8V588.8M353.40 547.2V588.8M354.83 549.6V619.6M356.49 568.6V619.6M357.91 568.6V620.8M359.58 560.2V620.8M361.24 560.2V619.6M362.66 557.9V619.6M364.33 551.9V612.5M365.75 551.9V611.3" stroke="#EBEBEB" stroke-width="0.11" fill="none"/>
<path d="M89.93 673.29H95.93M89.93 606.74H95.93M89.93 540.19H95.93M89.93 473.64H95.93M89.93 407.09H95.93M118.53 686.60V691.70M158.23 686.60V691.70M197.93 686.60V691.70M237.63 686.60V691.70M277.33 686.60V691.70M317.03 686.60V691.70M356.73 686.60V691.70" stroke="#333" stroke-width="2.3" fill="none"/>
<text transform="translate(85.93,679.44) scale(1.06,1)" font-size="16.4" fill="#000" text-anchor="end">0.00</text>
<text transform="translate(85.93,612.89) scale(1.06,1)" font-size="16.4" fill="#000" text-anchor="end">0.25</text>
<text transform="translate(85.93,546.34) scale(1.06,1)" font-size="16.4" fill="#000" text-anchor="end">0.50</text>
<text transform="translate(85.93,479.79) scale(1.06,1)" font-size="16.4" fill="#000" text-anchor="end">0.75</text>
<text transform="translate(85.93,413.24) scale(1.06,1)" font-size="16.4" fill="#000" text-anchor="end">1.00</text>
<text x="118.53" y="708.50" font-size="17.0" fill="#000" text-anchor="middle">1</text>
<text x="158.23" y="708.50" font-size="17.0" fill="#000" text-anchor="middle">2</text>
<text x="197.93" y="708.50" font-size="17.0" fill="#000" text-anchor="middle">3</text>
<text x="237.63" y="708.50" font-size="17.0" fill="#000" text-anchor="middle">4</text>
<text x="277.33" y="708.50" font-size="17.0" fill="#000" text-anchor="middle">5</text>
<text x="317.03" y="708.50" font-size="17.0" fill="#000" text-anchor="middle">10</text>
<text x="356.73" y="708.50" font-size="17.0" fill="#000" text-anchor="middle">15</text>
</g>
<g>
<rect x="433.06" y="360.36" width="283.80" height="33.42" fill="#D9D9D9"/>
<text transform="translate(574.36,383.76) scale(1.03,1)" font-size="16.6" fill="#1A1A1A" text-anchor="middle">EURGBP</text>
<rect x="433.06" y="393.78" width="283.80" height="292.82" fill="#EBEBEB"/>
<path d="M433.06 640.01H716.86M433.06 573.47H716.86M433.06 506.92H716.86M433.06 440.37H716.86M435.81 393.78V686.60M475.51 393.78V686.60M515.21 393.78V686.60M554.91 393.78V686.60M594.61 393.78V686.60M634.31 393.78V686.60M674.01 393.78V686.60M713.71 393.78V686.60" stroke="#fff" stroke-width="1.6" fill="none"/>
<path d="M433.06 673.29H716.86M433.06 606.74H716.86M433.06 540.19H716.86M433.06 473.64H716.86M433.06 407.09H716.86M455.66 393.78V686.60M495.36 393.78V686.60M535.06 393.78V686.60M574.76 393.78V686.60M614.46 393.78V686.60M654.16 393.78V686.60M693.86 393.78V686.60" stroke="#fff" stroke-width="2.4" fill="none"/>
<path d="M433.06 460.33H716.86" stroke="#00FF00" stroke-width="2.1" fill="none"/>
<path d="M433.06 513.57H716.86" stroke="#0000FF" stroke-width="2.1" stroke-dasharray="8.17 8.17" fill="none"/>
<path d="M445.77 419.6H447.91V439.6H445.77ZM447.44 510.4H449.57V570.9H447.44ZM449.10 496.6H451.24V578.1H449.10ZM450.76 504.4H452.90V568.6H450.76ZM452.43 498.5H454.56V569.8H452.43ZM454.09 499.7H456.23V548.4H454.09Z" fill="#FF6161"/>
<path d="M455.75 502.1H457.89V570.9H455.75ZM457.41 502.1H459.55V570.9H457.41ZM459.07 504.4H460.98V549.6H459.07ZM460.50 491.4H462.64V581.1H460.50ZM462.16 490.2H464.06V551.9H462.16ZM463.59 483.8H465.73V551.9H463.59Z" fill="#BA4E93"/>
<path d="M485.20 459.3H487.34V540.1H485.20ZM486.86 460.5H489.00V548.4H486.86ZM488.52 523.4H490.66V607.8H488.52ZM490.19 523.4H492.32V610.1H490.19ZM491.85 529.4H493.99V610.1H491.85Z" fill="#FF6161"/>
<path d="M493.51 534.1H495.65V603.0H493.51ZM495.18 531.8H497.31V608.9H495.18ZM496.60 531.8H498.50V612.5H496.60ZM498.02 536.5H500.16V597.1H498.02ZM499.69 525.8H501.82V584.0H499.69ZM501.35 521.1H503.25V562.6H501.35Z" fill="#BA4E93"/>
<path d="M502.77 521.1H505.62V578.1H502.77Z" fill="#56508F"/>
<path d="M525.10 475.9H527.24V567.4H525.10ZM526.76 465.2H528.90V565.0H526.76ZM528.42 467.6H530.56V549.6H528.42ZM530.09 515.1H532.23V601.8H530.09ZM531.75 534.1H533.89V616.1H531.75Z" fill="#FF6161"/>
<path d="M533.41 528.9H535.55V607.8H533.41ZM535.08 536.5H537.21V588.8H535.08ZM536.74 536.5H538.88V610.1H536.74ZM538.40 523.4H540.54V612.5H538.40ZM540.06 515.6H541.96V618.4H540.06ZM541.49 521.1H543.15V618.4H541.49Z" fill="#BA4E93"/>
<path d="M542.91 510.4H545.52V585.9H542.91Z" fill="#56508F"/>
<path d="M564.76 475.5H566.90V578.1H564.76ZM566.42 475.5H568.56V586.4H566.42ZM568.09 481.9H570.23V592.3H568.09ZM569.75 523.4H571.89V616.1H569.75ZM571.41 521.1H573.55V616.1H571.41Z" fill="#FF6161"/>
<path d="M573.08 546.0H575.21V631.5H573.08ZM574.74 539.4H576.88V617.2H574.74ZM576.40 542.4H578.54V614.9H576.40ZM578.06 549.6H580.20V607.8H578.06ZM579.73 537.0H581.86V625.6H579.73ZM581.39 537.0H583.29V607.8H581.39Z" fill="#BA4E93"/>
<path d="M582.81 526.3H585.19V607.0H582.81Z" fill="#56508F"/>
<path d="M604.19 484.2H606.33V588.8H604.19ZM605.85 481.4H607.99V597.1H605.85ZM607.51 480.7H609.65V597.1H607.51ZM609.17 478.3H611.31V588.8H609.17ZM610.84 538.9H612.98V652.4H610.84Z" fill="#FF6161"/>
<path d="M612.50 537.0H614.64V612.5H612.50ZM614.16 551.9H616.30V616.1H614.16ZM615.83 547.2H617.96V618.4H615.83ZM617.49 549.6H619.62V617.2H617.49ZM619.15 547.2H621.05V616.1H619.15Z" fill="#BA4E93"/>
<path d="M620.58 547.2H622.71V616.1H620.58ZM622.24 520.6H624.61V615.4H622.24Z" fill="#56508F"/>
<path d="M643.85 504.4H645.99V584.0H643.85ZM645.51 489.0H647.65V593.5H645.51ZM647.17 496.6H649.31V587.6H647.17ZM648.84 496.6H650.98V576.9H648.84ZM650.50 555.5H652.40V616.1H650.50Z" fill="#FF6161"/>
<path d="M651.92 555.5H654.06V639.1H651.92ZM653.59 549.6H655.73V631.5H653.59ZM655.25 550.8H657.39V630.3H655.25ZM656.91 550.8H658.81V612.5H656.91Z" fill="#BA4E93"/>
<path d="M658.34 542.4H660.48V612.5H658.34ZM660.00 534.1H662.14V625.6H660.00ZM661.66 504.9H664.75V591.1H661.66Z" fill="#56508F"/>
<path d="M683.51 510.4H685.65V599.4H683.51ZM685.17 504.4H687.31V587.6H685.17ZM686.84 504.4H688.98V593.5H686.84ZM688.50 494.2H690.64V588.8H688.50Z" fill="#FF6161"/>
<path d="M690.16 557.9H692.30V620.8H690.16ZM691.83 557.9H693.96V623.2H691.83ZM693.49 552.6H695.62V631.5H693.49ZM695.15 560.2H697.05V626.8H695.15Z" fill="#BA4E93"/>
<path d="M696.58 555.5H698.71V626.8H696.58ZM698.00 547.2H700.14V633.9H698.00ZM699.66 544.8H701.80V616.1H699.66ZM701.33 536.5H703.23V607.8H701.33ZM702.51 523.4H704.41V593.5H702.51Z" fill="#56508F"/>
<path d="M449.34 510.4V570.9M451.00 504.4V568.6M452.66 504.4V568.6M454.32 499.7V548.4M455.99 502.1V548.4M457.65 502.1V570.9M459.31 504.4V549.6M460.74 504.4V549.6M462.40 491.4V551.9M463.82 490.2V551.9M487.10 460.5V540.1M488.76 523.4V548.4M490.43 523.4V607.8M492.09 529.4V610.1M493.75 534.1V603.0M495.41 534.1V603.0M496.96 531.8V608.9M498.26 536.5V597.1M499.93 536.5V584.0M501.59 525.8V562.6M503.01 521.1V562.6M527.00 475.9V565.0M528.66 467.6V549.6M530.33 515.1V549.6M531.99 534.1V601.8M533.65 534.1V607.8M535.31 536.5V588.8M536.97 536.5V588.8M538.64 536.5V610.1M540.30 523.4V612.5M541.72 521.1V618.4M543.03 521.1V585.9M566.66 475.5V578.1M568.33 481.9V586.4M569.99 523.4V592.3M571.65 523.4V616.1M573.31 546.0V616.1M574.97 546.0V617.2M576.64 542.4V614.9M578.30 549.6V607.8M579.96 549.6V607.8M581.62 537.0V607.8M583.05 537.0V607.0M606.09 484.2V588.8M607.75 481.4V597.1M609.41 480.7V588.8M611.08 538.9V588.8M612.74 538.9V612.5M614.40 551.9V612.5M616.06 551.9V616.1M617.72 549.6V617.2M619.39 549.6V616.1M620.81 547.2V616.1M622.47 547.2V615.4M645.75 504.4V584.0M647.41 496.6V587.6M649.08 496.6V576.9M650.74 555.5V576.9M652.16 555.5V616.1M653.83 555.5V631.5M655.49 550.8V630.3M657.15 550.8V612.5M658.58 550.8V612.5M660.24 542.4V612.5M661.90 534.1V591.1M685.41 510.4V587.6M687.08 504.4V587.6M688.74 504.4V588.8M690.40 557.9V588.8M692.06 557.9V620.8M693.73 557.9V623.2M695.39 560.2V626.8M696.81 560.2V626.8M698.36 555.5V626.8M699.90 547.2V616.1M701.56 544.8V607.8M702.87 536.5V593.5" stroke="#EBEBEB" stroke-width="0.11" fill="none"/>
<path d="M427.06 673.29H433.06M427.06 606.74H433.06M427.06 540.19H433.06M427.06 473.64H433.06M427.06 407.09H433.06M455.66 686.60V691.70M495.36 686.60V691.70M535.06 686.60V691.70M574.76 686.60V691.70M614.46 686.60V691.70M654.16 686.60V691.70M693.86 686.60V691.70" stroke="#333" stroke-width="2.3" fill="none"/>
<text transform="translate(423.06,679.44) scale(1.06,1)" font-size="16.4" fill="#000" text-anchor="end">0.00</text>
<text transform="translate(423.06,612.89) scale(1.06,1)" font-size="16.4" fill="#000" text-anchor="end">0.25</text>
<text transform="translate(423.06,546.34) scale(1.06,1)" font-size="16.4" fill="#000" text-anchor="end">0.50</text>
<text transform="translate(423.06,479.79) scale(1.06,1)" font-size="16.4" fill="#000" text-anchor="end">0.75</text>
<text transform="translate(423.06,413.24) scale(1.06,1)" font-size="16.4" fill="#000" text-anchor="end">1.00</text>
<text x="455.66" y="708.50" font-size="17.0" fill="#000" text-anchor="middle">1</text>
<text x="495.36" y="708.50" font-size="17.0" fill="#000" text-anchor="middle">2</text>
<text x="535.06" y="708.50" font-size="17.0" fill="#000" text-anchor="middle">3</text>
<text x="574.76" y="708.50" font-size="17.0" fill="#000" text-anchor="middle">4</text>
<text x="614.46" y="708.50" font-size="17.0" fill="#000" text-anchor="middle">5</text>
<text x="654.16" y="708.50" font-size="17.0" fill="#000" text-anchor="middle">10</text>
<text x="693.86" y="708.50" font-size="17.0" fill="#000" text-anchor="middle">15</text>
</g>
<g>
<rect x="770.19" y="360.36" width="283.80" height="33.42" fill="#D9D9D9"/>
<text transform="translate(911.49,383.76) scale(1.03,1)" font-size="16.6" fill="#1A1A1A" text-anchor="middle">EURJPY</text>
<rect x="770.19" y="393.78" width="283.80" height="292.82" fill="#EBEBEB"/>
<path d="M770.19 640.01H1053.99M770.19 573.47H1053.99M770.19 506.92H1053.99M770.19 440.37H1053.99M772.94 393.78V686.60M812.64 393.78V686.60M852.34 393.78V686.60M892.04 393.78V686.60M931.74 393.78V686.60M971.44 393.78V686.60M1011.14 393.78V686.60M1050.84 393.78V686.60" stroke="#fff" stroke-width="1.6" fill="none"/>
<path d="M770.19 673.29H1053.99M770.19 606.74H1053.99M770.19 540.19H1053.99M770.19 473.64H1053.99M770.19 407.09H1053.99M792.79 393.78V686.60M832.49 393.78V686.60M872.19 393.78V686.60M911.89 393.78V686.60M951.59 393.78V686.60M991.29 393.78V686.60M1030.99 393.78V686.60" stroke="#fff" stroke-width="2.4" fill="none"/>
<path d="M770.19 460.33H1053.99" stroke="#00FF00" stroke-width="2.1" fill="none"/>
<path d="M770.19 513.57H1053.99" stroke="#0000FF" stroke-width="2.1" stroke-dasharray="8.17 8.17" fill="none"/>
<path d="M782.77 419.6H784.91V437.5H782.77ZM784.44 502.1H786.58V578.1H784.44ZM786.10 503.2H788.24V586.4H786.10ZM787.76 502.1H789.90V570.9H787.76ZM789.42 502.1H791.56V565.0H789.42ZM791.09 496.6H793.23V565.0H791.09Z" fill="#FF6161"/>
<path d="M792.75 502.1H794.89V560.2H792.75ZM794.41 502.1H796.55V581.1H794.41ZM796.08 499.7H797.98V568.6H796.08ZM797.50 498.5H799.64V565.0H797.50ZM799.16 493.8H801.06V565.0H799.16ZM800.59 510.4H802.96V565.0H800.59Z" fill="#BA4E93"/>
<path d="M822.44 451.0H824.58V532.9H822.44ZM824.10 451.0H826.24V536.5H824.10ZM825.76 448.6H827.90V543.6H825.76ZM827.42 523.4H829.56V594.7H827.42ZM829.09 523.4H831.23V603.0H829.09ZM830.75 521.1H832.65V597.1H830.75Z" fill="#FF6161"/>
<path d="M832.17 525.8H834.31V610.6H832.17ZM833.84 529.4H835.98V595.9H833.84ZM835.50 521.1H837.64V579.2H835.50ZM837.16 512.8H839.30V591.1H837.16ZM838.59 507.5H840.49V580.4H838.59Z" fill="#BA4E93"/>
<path d="M840.01 467.6H842.62V554.3H840.01Z" fill="#56508F"/>
<path d="M862.10 475.9H864.24V559.1H862.10ZM863.76 472.9H865.90V555.5H863.76ZM865.42 477.1H867.56V575.7H865.42ZM867.09 542.4H869.23V606.6H867.09ZM868.75 542.4H870.89V623.2H868.75Z" fill="#FF6161"/>
<path d="M870.41 541.2H872.55V623.2H870.41ZM872.08 525.8H874.21V607.8H872.08ZM873.74 525.8H875.88V603.0H873.74ZM875.40 529.4H877.54V584.0H875.40ZM877.06 529.4H878.96V584.0H877.06ZM878.49 529.4H880.15V625.6H878.49Z" fill="#BA4E93"/>
<path d="M879.91 504.9H882.52V588.8H879.91Z" fill="#56508F"/>
<path d="M901.76 489.0H903.90V585.9H901.76ZM903.42 483.8H905.56V570.9H903.42ZM905.09 483.8H907.23V568.6H905.09ZM906.75 555.5H908.89V612.5H906.75ZM908.41 550.8H910.55V620.8H908.41Z" fill="#FF6161"/>
<path d="M910.08 549.6H912.21V616.1H910.08ZM911.74 544.8H913.88V607.8H911.74ZM913.16 531.8H915.30V628.6H913.16ZM914.83 542.4H916.73V622.0H914.83ZM916.25 542.4H918.39V620.8H916.25Z" fill="#BA4E93"/>
<path d="M917.91 529.4H920.05V578.1H917.91ZM919.58 520.6H922.19V575.7H919.58Z" fill="#56508F"/>
<path d="M941.19 493.8H943.33V585.9H941.19ZM942.85 493.8H944.99V576.9H942.85ZM944.51 491.4H946.65V570.9H944.51ZM946.17 489.0H948.31V565.0H946.17ZM947.84 493.8H949.98V574.5H947.84Z" fill="#FF6161"/>
<path d="M949.50 550.8H951.64V620.8H949.50ZM951.16 555.5H953.30V607.8H951.16ZM952.83 555.5H954.96V610.1H952.83ZM954.49 555.5H956.62V616.1H954.49ZM956.15 544.8H958.05V617.2H956.15Z" fill="#BA4E93"/>
<path d="M957.34 537.7H959.48V608.9H957.34ZM959.00 518.2H961.85V610.6H959.00Z" fill="#56508F"/>
<path d="M980.85 502.1H982.99V586.4H980.85ZM982.51 499.7H984.65V588.8H982.51ZM984.17 496.6H986.31V582.8H984.17ZM985.84 498.5H987.98V581.6H985.84Z" fill="#FF6161"/>
<path d="M987.50 552.6H989.64V620.8H987.50ZM989.16 562.6H991.30V626.8H989.16ZM990.83 562.6H992.73V631.5H990.83ZM992.25 562.6H994.39V625.6H992.25ZM993.91 560.2H995.81V618.4H993.91Z" fill="#BA4E93"/>
<path d="M995.34 549.6H997.48V618.4H995.34ZM997.00 547.2H999.14V612.5H997.00ZM998.42 486.6H1001.75V588.8H998.42Z" fill="#56508F"/>
<path d="M1020.75 504.4H1022.89V599.4H1020.75ZM1022.41 502.1H1024.55V591.1H1022.41ZM1024.08 502.1H1026.21V593.5H1024.08ZM1025.74 499.7H1027.88V594.7H1025.74Z" fill="#FF6161"/>
<path d="M1027.16 544.8H1029.30V614.9H1027.16ZM1028.83 549.6H1030.96V613.7H1028.83ZM1030.25 555.5H1032.15V623.2H1030.25ZM1031.67 553.1H1033.81V618.4H1031.67ZM1033.10 557.9H1035.00V614.9H1033.10Z" fill="#BA4E93"/>
<path d="M1034.53 549.6H1036.66V612.5H1034.53ZM1036.19 542.4H1038.33V604.2H1036.19ZM1037.61 508.0H1039.51V591.1H1037.61ZM1039.04 504.9H1041.41V585.9H1039.04Z" fill="#56508F"/>
<path d="M786.34 503.2V578.1M788.00 503.2V570.9M789.66 502.1V565.0M791.33 502.1V565.0M792.99 502.1V560.2M794.65 502.1V560.2M796.31 502.1V568.6M797.74 499.7V565.0M799.40 498.5V565.0M800.83 510.4V565.0M824.34 451.0V532.9M826.00 451.0V536.5M827.66 523.4V543.6M829.33 523.4V594.7M830.99 523.4V597.1M832.41 525.8V597.1M834.08 529.4V595.9M835.74 529.4V579.2M837.40 521.1V579.2M838.94 512.8V580.4M840.25 507.5V554.3M864.00 475.9V555.5M865.66 477.1V555.5M867.33 542.4V575.7M868.99 542.4V606.6M870.65 542.4V623.2M872.31 541.2V607.8M873.97 525.8V603.0M875.64 529.4V584.0M877.30 529.4V584.0M878.72 529.4V584.0M880.03 529.4V588.8M903.66 489.0V570.9M905.33 483.8V568.6M906.99 555.5V568.6M908.65 555.5V612.5M910.31 550.8V616.1M911.97 549.6V607.8M913.52 544.8V607.8M915.06 542.4V622.0M916.49 542.4V620.8M918.15 542.4V578.1M919.81 529.4V575.7M943.09 493.8V576.9M944.75 493.8V570.9M946.41 491.4V565.0M948.08 493.8V565.0M949.74 550.8V574.5M951.40 555.5V607.8M953.06 555.5V607.8M954.72 555.5V610.1M956.39 555.5V616.1M957.69 544.8V608.9M959.24 537.7V608.9M982.75 502.1V586.4M984.41 499.7V582.8M986.08 498.5V581.6M987.74 552.6V581.6M989.40 562.6V620.8M991.06 562.6V626.8M992.49 562.6V625.6M994.15 562.6V618.4M995.58 560.2V618.4M997.24 549.6V612.5M998.78 547.2V588.8M1022.65 504.4V591.1M1024.31 502.1V591.1M1025.97 502.1V593.5M1027.52 544.8V594.7M1029.06 549.6V613.7M1030.61 555.5V613.7M1031.91 555.5V618.4M1033.46 557.9V614.9M1034.76 557.9V612.5M1036.42 549.6V604.2M1037.97 542.4V591.1M1039.28 508.0V585.9" stroke="#EBEBEB" stroke-width="0.11" fill="none"/>
<path d="M764.19 673.29H770.19M764.19 606.74H770.19M764.19 540.19H770.19M764.19 473.64H770.19M764.19 407.09H770.19M792.79 686.60V691.70M832.49 686.60V691.70M872.19 686.60V691.70M911.89 686.60V691.70M951.59 686.60V691.70M991.29 686.60V691.70M1030.99 686.60V691.70" stroke="#333" stroke-width="2.3" fill="none"/>
<text transform="translate(760.19,679.44) scale(1.06,1)" font-size="16.4" fill="#000" text-anchor="end">0.00</text>
<text transform="translate(760.19,612.89) scale(1.06,1)" font-size="16.4" fill="#000" text-anchor="end">0.25</text>
<text transform="translate(760.19,546.34) scale(1.06,1)" font-size="16.4" fill="#000" text-anchor="end">0.50</text>
<text transform="translate(760.19,479.79) scale(1.06,1)" font-size="16.4" fill="#000" text-anchor="end">0.75</text>
<text transform="translate(760.19,413.24) scale(1.06,1)" font-size="16.4" fill="#000" text-anchor="end">1.00</text>
<text x="792.79" y="708.50" font-size="17.0" fill="#000" text-anchor="middle">1</text>
<text x="832.49" y="708.50" font-size="17.0" fill="#000" text-anchor="middle">2</text>
<text x="872.19" y="708.50" font-size="17.0" fill="#000" text-anchor="middle">3</text>
<text x="911.89" y="708.50" font-size="17.0" fill="#000" text-anchor="middle">4</text>
<text x="951.59" y="708.50" font-size="17.0" fill="#000" text-anchor="middle">5</text>
<text x="991.29" y="708.50" font-size="17.0" fill="#000" text-anchor="middle">10</text>
<text x="1030.99" y="708.50" font-size="17.0" fill="#000" text-anchor="middle">15</text>
</g>
<g>
<rect x="95.93" y="722.22" width="283.80" height="33.42" fill="#D9D9D9"/>
<text transform="translate(237.23,745.62) scale(1.03,1)" font-size="16.6" fill="#1A1A1A" text-anchor="middle">EURSEK</text>
<rect x="95.93" y="755.64" width="283.80" height="292.82" fill="#EBEBEB"/>
<path d="M95.93 1001.88H379.73M95.93 935.33H379.73M95.93 868.78H379.73M95.93 802.23H379.73M98.68 755.64V1048.46M138.38 755.64V1048.46M178.08 755.64V1048.46M217.78 755.64V1048.46M257.48 755.64V1048.46M297.18 755.64V1048.46M336.88 755.64V1048.46M376.58 755.64V1048.46" stroke="#fff" stroke-width="1.6" fill="none"/>
<path d="M95.93 1035.15H379.73M95.93 968.60H379.73M95.93 902.05H379.73M95.93 835.50H379.73M95.93 768.95H379.73M118.53 755.64V1048.46M158.23 755.64V1048.46M197.93 755.64V1048.46M237.63 755.64V1048.46M277.33 755.64V1048.46M317.03 755.64V1048.46M356.73 755.64V1048.46" stroke="#fff" stroke-width="2.4" fill="none"/>
<path d="M95.93 822.19H379.73" stroke="#00FF00" stroke-width="2.1" fill="none"/>
<path d="M95.93 875.43H379.73" stroke="#0000FF" stroke-width="2.1" stroke-dasharray="8.17 8.17" fill="none"/>
<path d="M108.30 781.6H110.44V806.4H108.30ZM110.20 864.1H112.34V918.7H110.20ZM111.86 865.2H114.00V919.9H111.86ZM113.53 864.1H115.66V927.0H113.53ZM115.19 864.1H117.33V927.0H115.19ZM116.61 872.4H118.51V956.0H116.61Z" fill="#FF6161"/>
<path d="M118.04 853.4H120.17V922.2H118.04ZM119.70 870.0H121.84V966.9H119.70ZM121.36 871.2H123.50V953.6H121.36ZM123.03 870.0H125.16V934.6H123.03ZM124.69 869.5H126.83V908.0H124.69ZM126.35 853.4H128.49V908.0H126.35Z" fill="#BA4E93"/>
<path d="M147.96 816.6H150.10V921.5H147.96ZM149.62 816.6H152.00V859.8H149.62ZM152.00 903.2H154.14V969.8H152.00ZM153.66 890.9H155.80V960.2H153.66ZM155.32 890.9H157.46V977.4H155.32Z" fill="#FF6161"/>
<path d="M157.22 898.5H159.36V961.4H157.22ZM158.89 885.4H161.03V950.8H158.89ZM160.55 883.1H162.69V950.8H160.55ZM162.21 883.1H164.35V969.8H162.21ZM163.88 877.6H166.01V976.9H163.88ZM165.54 887.8H168.15V956.7H165.54Z" fill="#BA4E93"/>
<path d="M187.86 829.6H190.00V934.1H187.86ZM189.53 830.8H191.66V944.8H189.53ZM191.19 898.5H193.32V990.6H191.19ZM192.85 898.5H194.99V965.0H192.85ZM194.51 887.8H196.65V982.8H194.51Z" fill="#FF6161"/>
<path d="M196.18 885.4H198.31V965.0H196.18ZM197.84 893.8H199.98V973.3H197.84ZM199.50 891.4H201.64V974.5H199.50ZM201.16 887.8H203.30V976.9H201.16ZM202.82 885.4H204.96V956.7H202.82ZM204.25 880.0H205.91V955.5H204.25Z" fill="#BA4E93"/>
<path d="M205.68 861.2H208.29V953.6H205.68Z" fill="#56508F"/>
<path d="M227.53 831.5H229.66V934.1H227.53ZM229.19 829.6H231.33V935.3H229.19ZM230.85 883.1H232.99V965.0H230.85ZM232.51 896.1H234.65V974.5H232.51ZM234.18 903.2H236.31V970.9H234.18Z" fill="#FF6161"/>
<path d="M235.84 917.5H237.97V972.1H235.84ZM237.50 900.9H239.64V979.2H237.50ZM239.16 896.1H241.30V985.2H239.16ZM240.83 898.5H242.72V980.4H240.83ZM242.25 900.9H244.39V974.5H242.25ZM243.91 898.5H245.58V963.8H243.91Z" fill="#BA4E93"/>
<path d="M245.34 877.6H247.71V934.6H245.34Z" fill="#56508F"/>
<path d="M267.19 842.7H269.33V945.5H267.19ZM268.85 841.5H270.99V953.1H268.85ZM270.51 840.3H272.65V956.7H270.51ZM272.18 892.6H274.31V969.8H272.18ZM273.84 893.8H275.98V993.5H273.84Z" fill="#FF6161"/>
<path d="M275.50 893.8H277.64V982.8H275.50ZM277.16 903.2H279.30V980.4H277.16ZM278.83 904.4H280.96V980.4H278.83ZM280.49 904.4H282.62V978.1H280.49ZM282.15 906.8H284.05V969.8H282.15ZM283.58 906.8H285.24V967.4H283.58Z" fill="#BA4E93"/>
<path d="M285.00 880.0H287.61V969.8H285.00Z" fill="#56508F"/>
<path d="M306.85 851.0H308.99V947.9H306.85ZM308.51 855.8H310.65V938.9H308.51ZM310.18 855.8H312.31V953.1H310.18ZM311.84 853.4H313.98V953.1H311.84Z" fill="#FF6161"/>
<path d="M313.74 930.6H315.88V990.6H313.74ZM315.40 917.5H317.54V985.2H315.40ZM317.06 911.6H319.20V980.4H317.06ZM318.73 909.2H320.86V982.8H318.73Z" fill="#BA4E93"/>
<path d="M320.62 919.9H322.76V959.1H320.62ZM322.05 891.4H324.19V972.1H322.05ZM323.48 883.1H325.38V959.1H323.48ZM324.90 858.6H327.27V913.9H324.90Z" fill="#56508F"/>
<path d="M346.51 864.1H348.65V947.9H346.51ZM348.18 865.2H350.31V959.1H348.18ZM349.84 864.1H351.98V943.6H349.84ZM351.50 861.7H353.64V937.7H351.50Z" fill="#FF6161"/>
<path d="M353.16 914.6H355.30V976.9H353.16ZM354.82 914.6H356.96V982.8H354.82ZM356.49 932.9H358.62V981.6H356.49ZM358.15 932.9H360.29V987.6H358.15ZM359.81 911.6H361.71V985.2H359.81Z" fill="#BA4E93"/>
<path d="M361.24 917.5H363.38V982.8H361.24ZM362.66 898.5H364.80V976.9H362.66ZM364.32 858.6H367.18V955.5H364.32Z" fill="#56508F"/>
<path d="M112.10 865.2V918.7M113.76 865.2V919.9M115.42 864.1V927.0M116.97 872.4V927.0M118.28 872.4V922.2M119.94 870.0V922.2M121.60 871.2V953.6M123.26 871.2V934.6M124.92 870.0V908.0M126.59 869.5V908.0M149.86 816.6V859.8M153.90 903.2V960.2M155.56 890.9V960.2M157.34 898.5V961.4M159.12 898.5V950.8M160.79 885.4V950.8M162.45 883.1V950.8M164.11 883.1V969.8M165.78 887.8V956.7M189.76 830.8V934.1M191.43 898.5V944.8M193.09 898.5V965.0M194.75 898.5V965.0M196.41 887.8V965.0M198.07 893.8V965.0M199.74 893.8V973.3M201.40 891.4V974.5M203.06 887.8V956.7M204.61 885.4V955.5M205.79 880.0V953.6M229.43 831.5V934.1M231.09 883.1V935.3M232.75 896.1V965.0M234.41 903.2V970.9M236.07 917.5V970.9M237.74 917.5V972.1M239.40 900.9V979.2M241.06 898.5V980.4M242.49 900.9V974.5M244.15 900.9V963.8M245.46 898.5V934.6M269.09 842.7V945.5M270.75 841.5V953.1M272.41 892.6V956.7M274.07 893.8V969.8M275.74 893.8V982.8M277.40 903.2V980.4M279.06 904.4V980.4M280.73 904.4V978.1M282.39 906.8V969.8M283.81 906.8V967.4M285.12 906.8V967.4M308.75 855.8V938.9M310.41 855.8V938.9M312.07 855.8V953.1M313.86 930.6V953.1M315.64 930.6V985.2M317.30 917.5V980.4M318.96 911.6V980.4M320.74 919.9V959.1M322.41 919.9V959.1M323.83 891.4V959.1M325.14 883.1V913.9M348.41 865.2V947.9M350.07 865.2V943.6M351.74 864.1V937.7M353.40 914.6V937.7M355.06 914.6V976.9M356.73 932.9V981.6M358.39 932.9V981.6M360.05 932.9V985.2M361.48 917.5V982.8M363.02 917.5V976.9M364.56 898.5V955.5" stroke="#EBEBEB" stroke-width="0.11" fill="none"/>
<path d="M89.93 1035.15H95.93M89.93 968.60H95.93M89.93 902.05H95.93M89.93 835.50H95.93M89.93 768.95H95.93M118.53 1048.46V1053.56M158.23 1048.46V1053.56M197.93 1048.46V1053.56M237.63 1048.46V1053.56M277.33 1048.46V1053.56M317.03 1048.46V1053.56M356.73 1048.46V1053.56" stroke="#333" stroke-width="2.3" fill="none"/>
<text transform="translate(85.93,1041.30) scale(1.06,1)" font-size="16.4" fill="#000" text-anchor="end">0.00</text>
<text transform="translate(85.93,974.75) scale(1.06,1)" font-size="16.4" fill="#000" text-anchor="end">0.25</text>
<text transform="translate(85.93,908.20) scale(1.06,1)" font-size="16.4" fill="#000" text-anchor="end">0.50</text>
<text transform="translate(85.93,841.65) scale(1.06,1)" font-size="16.4" fill="#000" text-anchor="end">0.75</text>
<text transform="translate(85.93,775.10) scale(1.06,1)" font-size="16.4" fill="#000" text-anchor="end">1.00</text>
<text x="118.53" y="1070.36" font-size="17.0" fill="#000" text-anchor="middle">1</text>
<text x="158.23" y="1070.36" font-size="17.0" fill="#000" text-anchor="middle">2</text>
<text x="197.93" y="1070.36" font-size="17.0" fill="#000" text-anchor="middle">3</text>
<text x="237.63" y="1070.36" font-size="17.0" fill="#000" text-anchor="middle">4</text>
<text x="277.33" y="1070.36" font-size="17.0" fill="#000" text-anchor="middle">5</text>
<text x="317.03" y="1070.36" font-size="17.0" fill="#000" text-anchor="middle">10</text>
<text x="356.73" y="1070.36" font-size="17.0" fill="#000" text-anchor="middle">15</text>
</g>
<g>
<rect x="433.06" y="722.22" width="283.80" height="33.42" fill="#D9D9D9"/>
<text transform="translate(574.36,745.62) scale(1.03,1)" font-size="16.6" fill="#1A1A1A" text-anchor="middle">EURUSD</text>
<rect x="433.06" y="755.64" width="283.80" height="292.82" fill="#EBEBEB"/>
<path d="M433.06 1001.88H716.86M433.06 935.33H716.86M433.06 868.78H716.86M433.06 802.23H716.86M435.81 755.64V1048.46M475.51 755.64V1048.46M515.21 755.64V1048.46M554.91 755.64V1048.46M594.61 755.64V1048.46M634.31 755.64V1048.46M674.01 755.64V1048.46M713.71 755.64V1048.46" stroke="#fff" stroke-width="1.6" fill="none"/>
<path d="M433.06 1035.15H716.86M433.06 968.60H716.86M433.06 902.05H716.86M433.06 835.50H716.86M433.06 768.95H716.86M455.66 755.64V1048.46M495.36 755.64V1048.46M535.06 755.64V1048.46M574.76 755.64V1048.46M614.46 755.64V1048.46M654.16 755.64V1048.46M693.86 755.64V1048.46" stroke="#fff" stroke-width="2.4" fill="none"/>
<path d="M433.06 822.19H716.86" stroke="#00FF00" stroke-width="2.1" fill="none"/>
<path d="M433.06 875.43H716.86" stroke="#0000FF" stroke-width="2.1" stroke-dasharray="8.17 8.17" fill="none"/>
<path d="M445.77 778.6H447.91V878.3H445.77ZM447.44 864.1H449.57V940.1H447.44ZM449.10 869.5H451.24V941.2H449.10ZM450.76 872.4H452.90V942.4H450.76ZM452.43 872.4H454.56V943.6H452.43ZM453.85 858.6H455.75V947.9H453.85Z" fill="#FF6161"/>
<path d="M455.51 864.1H457.65V921.5H455.51ZM457.18 864.1H459.31V913.9H457.18ZM458.84 872.4H460.74V913.9H458.84ZM460.26 864.1H462.16V929.4H460.26ZM461.69 860.5H463.82V918.7H461.69ZM463.35 858.6H465.73V918.7H463.35Z" fill="#BA4E93"/>
<path d="M485.20 818.9H487.34V905.1H485.20ZM486.86 821.3H489.00V899.7H486.86ZM488.52 898.5H490.66V959.1H488.52ZM490.19 890.9H492.32V959.1H490.19ZM491.85 901.4H493.99V959.1H491.85Z" fill="#FF6161"/>
<path d="M493.75 890.9H495.89V959.1H493.75ZM495.41 890.9H497.55V956.7H495.41ZM497.07 885.4H499.21V950.8H497.07ZM498.50 877.6H500.64V961.4H498.50ZM500.16 881.9H502.30V935.3H500.16ZM501.82 883.1H503.49V947.9H501.82Z" fill="#BA4E93"/>
<path d="M503.25 834.9H505.62V913.5H503.25Z" fill="#56508F"/>
<path d="M525.10 837.5H527.24V966.2H525.10ZM526.76 836.8H528.90V940.1H526.76ZM528.42 826.8H530.56V941.2H528.42ZM530.09 891.4H532.23V974.5H530.09ZM531.75 892.6H533.89V985.2H531.75Z" fill="#FF6161"/>
<path d="M533.41 893.8H535.55V959.1H533.41ZM535.08 898.5H537.21V961.4H535.08ZM536.74 887.8H538.88V974.5H536.74ZM538.40 887.8H540.54V974.5H538.40ZM539.83 887.8H541.73V998.2H539.83ZM541.25 896.1H542.91V963.8H541.25Z" fill="#BA4E93"/>
<path d="M542.67 885.4H545.52V963.8H542.67Z" fill="#56508F"/>
<path d="M564.52 845.8H566.66V959.1H564.52ZM566.19 843.4H568.33V950.8H566.19ZM567.85 842.7H569.99V929.4H567.85ZM569.51 842.7H571.65V919.9H569.51ZM571.17 837.5H573.31V912.8H571.17Z" fill="#FF6161"/>
<path d="M572.84 911.6H574.98V976.9H572.84ZM574.50 911.6H576.64V974.5H574.50ZM576.16 903.7H578.30V974.5H576.16ZM577.83 904.4H579.73V969.8H577.83ZM579.25 909.2H581.15V967.4H579.25Z" fill="#BA4E93"/>
<path d="M580.91 893.3H583.05V1003.7H580.91ZM582.58 842.7H585.19V921.1H582.58Z" fill="#56508F"/>
<path d="M604.19 858.6H606.33V953.1H604.19ZM605.85 851.0H607.99V946.0H605.85ZM607.51 853.4H609.65V947.9H607.51ZM609.17 853.4H611.31V950.8H609.17ZM610.84 853.4H612.98V953.1H610.84Z" fill="#FF6161"/>
<path d="M612.50 901.4H614.64V963.8H612.50ZM614.16 896.1H616.30V985.2H614.16ZM615.83 898.5H617.96V976.9H615.83ZM617.49 904.4H619.62V967.4H617.49ZM619.15 911.6H621.05V966.2H619.15Z" fill="#BA4E93"/>
<path d="M620.58 887.8H622.71V946.0H620.58ZM622.24 885.4H624.61V963.8H622.24Z" fill="#56508F"/>
<path d="M643.85 861.7H645.99V940.1H643.85ZM645.51 848.6H647.65V959.1H645.51ZM647.17 858.6H649.31V946.0H647.17ZM648.84 856.2H650.98V950.8H648.84ZM650.50 858.6H652.40V943.6H650.50Z" fill="#FF6161"/>
<path d="M651.92 906.8H654.06V980.4H651.92ZM653.59 906.8H655.73V982.8H653.59ZM655.25 909.2H657.39V981.6H655.25ZM656.91 909.2H659.05V978.1H656.91Z" fill="#BA4E93"/>
<path d="M658.58 904.4H660.71V961.4H658.58ZM660.24 883.1H662.38V950.8H660.24ZM661.66 845.8H664.75V940.1H661.66Z" fill="#56508F"/>
<path d="M683.51 861.7H685.65V963.8H683.51ZM685.17 864.1H687.31V950.8H685.17ZM686.84 864.1H688.98V950.8H686.84ZM688.50 864.1H690.64V937.7H688.50Z" fill="#FF6161"/>
<path d="M690.16 906.8H692.30V987.6H690.16ZM691.83 911.6H693.96V990.6H691.83ZM693.49 917.5H695.62V982.8H693.49ZM694.91 922.2H696.81V976.9H694.91Z" fill="#BA4E93"/>
<path d="M696.34 924.6H698.48V1001.1H696.34ZM698.00 909.2H700.14V989.9H698.00ZM699.42 906.8H701.56V969.8H699.42ZM700.85 851.0H702.75V950.8H700.85ZM702.28 856.9H704.41V934.1H702.28Z" fill="#56508F"/>
<path d="M447.68 864.1V878.3M449.34 869.5V940.1M451.00 872.4V941.2M452.66 872.4V942.4M454.21 872.4V943.6M455.63 864.1V921.5M457.41 864.1V913.9M459.07 872.4V913.9M460.50 872.4V913.9M461.93 864.1V918.7M463.59 860.5V918.7M487.10 821.3V899.7M488.76 898.5V899.7M490.43 898.5V959.1M492.09 901.4V959.1M493.87 901.4V959.1M495.65 890.9V956.7M497.31 890.9V950.8M498.86 885.4V950.8M500.40 881.9V935.3M502.06 883.1V935.3M503.37 883.1V913.5M527.00 837.5V940.1M528.66 836.8V940.1M530.33 891.4V941.2M531.99 892.6V974.5M533.65 893.8V959.1M535.31 898.5V959.1M536.97 898.5V961.4M538.64 887.8V974.5M540.18 887.8V974.5M541.49 896.1V963.8M542.79 896.1V963.8M566.42 845.8V950.8M568.09 843.4V929.4M569.75 842.7V919.9M571.41 842.7V912.8M573.08 911.6V912.8M574.74 911.6V974.5M576.40 911.6V974.5M578.06 904.4V969.8M579.49 909.2V967.4M581.03 909.2V967.4M582.81 893.3V921.1M606.09 858.6V946.0M607.75 853.4V946.0M609.41 853.4V947.9M611.08 853.4V950.8M612.74 901.4V953.1M614.40 901.4V963.8M616.06 898.5V976.9M617.72 904.4V967.4M619.39 911.6V966.2M620.81 911.6V946.0M622.47 887.8V946.0M645.75 861.7V940.1M647.41 858.6V946.0M649.08 858.6V946.0M650.74 858.6V943.6M652.16 906.8V943.6M653.83 906.8V980.4M655.49 909.2V981.6M657.15 909.2V978.1M658.81 909.2V961.4M660.47 904.4V950.8M662.02 883.1V940.1M685.41 864.1V950.8M687.08 864.1V950.8M688.74 864.1V937.7M690.40 906.8V937.7M692.06 911.6V987.6M693.73 917.5V982.8M695.27 922.2V976.9M696.58 924.6V976.9M698.24 924.6V989.9M699.78 909.2V969.8M701.21 906.8V950.8M702.51 856.9V934.1" stroke="#EBEBEB" stroke-width="0.11" fill="none"/>
<path d="M427.06 1035.15H433.06M427.06 968.60H433.06M427.06 902.05H433.06M427.06 835.50H433.06M427.06 768.95H433.06M455.66 1048.46V1053.56M495.36 1048.46V1053.56M535.06 1048.46V1053.56M574.76 1048.46V1053.56M614.46 1048.46V1053.56M654.16 1048.46V1053.56M693.86 1048.46V1053.56" stroke="#333" stroke-width="2.3" fill="none"/>
<text transform="translate(423.06,1041.30) scale(1.06,1)" font-size="16.4" fill="#000" text-anchor="end">0.00</text>
<text transform="translate(423.06,974.75) scale(1.06,1)" font-size="16.4" fill="#000" text-anchor="end">0.25</text>
<text transform="translate(423.06,908.20) scale(1.06,1)" font-size="16.4" fill="#000" text-anchor="end">0.50</text>
<text transform="translate(423.06,841.65) scale(1.06,1)" font-size="16.4" fill="#000" text-anchor="end">0.75</text>
<text transform="translate(423.06,775.10) scale(1.06,1)" font-size="16.4" fill="#000" text-anchor="end">1.00</text>
<text x="455.66" y="1070.36" font-size="17.0" fill="#000" text-anchor="middle">1</text>
<text x="495.36" y="1070.36" font-size="17.0" fill="#000" text-anchor="middle">2</text>
<text x="535.06" y="1070.36" font-size="17.0" fill="#000" text-anchor="middle">3</text>
<text x="574.76" y="1070.36" font-size="17.0" fill="#000" text-anchor="middle">4</text>
<text x="614.46" y="1070.36" font-size="17.0" fill="#000" text-anchor="middle">5</text>
<text x="654.16" y="1070.36" font-size="17.0" fill="#000" text-anchor="middle">10</text>
<text x="693.86" y="1070.36" font-size="17.0" fill="#000" text-anchor="middle">15</text>
</g>
<g>
<rect x="770.19" y="722.22" width="283.80" height="33.42" fill="#D9D9D9"/>
<text transform="translate(911.49,745.62) scale(1.03,1)" font-size="16.6" fill="#1A1A1A" text-anchor="middle">GBPJPY</text>
<rect x="770.19" y="755.64" width="283.80" height="292.82" fill="#EBEBEB"/>
<path d="M770.19 1001.88H1053.99M770.19 935.33H1053.99M770.19 868.78H1053.99M770.19 802.23H1053.99M772.94 755.64V1048.46M812.64 755.64V1048.46M852.34 755.64V1048.46M892.04 755.64V1048.46M931.74 755.64V1048.46M971.44 755.64V1048.46M1011.14 755.64V1048.46M1050.84 755.64V1048.46" stroke="#fff" stroke-width="1.6" fill="none"/>
<path d="M770.19 1035.15H1053.99M770.19 968.60H1053.99M770.19 902.05H1053.99M770.19 835.50H1053.99M770.19 768.95H1053.99M792.79 755.64V1048.46M832.49 755.64V1048.46M872.19 755.64V1048.46M911.89 755.64V1048.46M951.59 755.64V1048.46M991.29 755.64V1048.46M1030.99 755.64V1048.46" stroke="#fff" stroke-width="2.4" fill="none"/>
<path d="M770.19 822.19H1053.99" stroke="#00FF00" stroke-width="2.1" fill="none"/>
<path d="M770.19 875.43H1053.99" stroke="#0000FF" stroke-width="2.1" stroke-dasharray="8.17 8.17" fill="none"/>
<path d="M782.77 778.6H784.91V799.2H782.77ZM784.67 874.8H786.81V918.7H784.67ZM786.34 874.8H788.48V918.7H786.34ZM788.00 872.4H790.14V934.6H788.00ZM789.66 869.5H791.80V946.0H789.66ZM791.33 869.5H793.23V923.4H791.33Z" fill="#FF6161"/>
<path d="M792.75 872.4H794.89V930.6H792.75ZM794.41 871.2H796.55V934.1H794.41ZM796.08 871.2H797.98V934.1H796.08ZM797.26 858.6H799.16V953.6H797.26ZM798.69 872.4H800.59V929.4H798.69Z" fill="#BA4E93"/>
<path d="M800.35 813.5H803.20V918.7H800.35Z" fill="#56508F"/>
<path d="M822.44 818.9H824.58V899.7H822.44ZM824.10 818.9H826.24V916.3H824.10ZM825.76 821.3H827.90V899.7H825.76ZM827.42 818.9H829.56V893.8H827.42ZM828.61 810.6H830.51V885.4H828.61ZM830.04 896.1H832.17V963.8H830.04Z" fill="#FF6161"/>
<path d="M831.70 887.8H833.84V957.9H831.70ZM833.12 885.4H835.26V957.9H833.12ZM834.79 893.8H836.92V957.9H834.79ZM836.45 893.8H838.59V950.8H836.45ZM838.11 893.8H840.01V953.1H838.11Z" fill="#BA4E93"/>
<path d="M839.77 877.6H842.62V963.8H839.77Z" fill="#56508F"/>
<path d="M862.10 829.6H864.24V905.1H862.10ZM863.76 826.8H865.90V918.7H863.76ZM865.42 821.3H867.56V919.9H865.42ZM867.09 823.7H869.23V929.4H867.09Z" fill="#FF6161"/>
<path d="M868.99 893.8H871.12V972.1H868.99ZM870.41 893.8H872.31V985.2H870.41ZM871.84 906.8H873.98V974.5H871.84ZM873.50 906.8H875.64V967.4H873.50ZM875.16 896.1H877.30V974.5H875.16ZM876.83 893.8H878.73V966.2H876.83Z" fill="#BA4E93"/>
<path d="M878.25 887.8H880.39V950.8H878.25ZM879.91 877.6H882.52V929.4H879.91Z" fill="#56508F"/>
<path d="M901.76 837.5H903.90V959.1H901.76ZM903.42 845.8H905.56V917.5H903.42ZM904.85 843.4H906.75V917.5H904.85ZM906.27 851.0H908.41V959.1H906.27ZM907.94 837.5H910.08V917.5H907.94Z" fill="#FF6161"/>
<path d="M909.84 917.5H911.98V976.9H909.84ZM911.50 913.9H913.64V969.8H911.50ZM913.16 909.2H915.30V969.8H913.16ZM914.83 906.8H916.73V967.4H914.83ZM916.01 893.8H917.91V963.8H916.01Z" fill="#BA4E93"/>
<path d="M917.44 891.4H919.58V972.1H917.44ZM918.86 885.4H920.76V963.8H918.86ZM920.05 840.3H922.42V923.4H920.05Z" fill="#56508F"/>
<path d="M941.19 861.7H943.33V923.4H941.19ZM942.85 855.8H944.99V943.6H942.85ZM944.51 848.6H946.65V947.9H944.51ZM946.17 845.8H948.31V927.0H946.17ZM947.84 845.8H949.50V922.2H947.84Z" fill="#FF6161"/>
<path d="M948.79 911.6H950.92V974.5H948.79ZM950.45 917.5H952.59V972.1H950.45ZM952.11 917.5H954.25V980.4H952.11ZM953.77 917.5H955.91V969.8H953.77Z" fill="#BA4E93"/>
<path d="M955.67 906.8H957.81V963.8H955.67ZM957.34 885.4H959.48V937.7H957.34ZM959.00 856.2H961.85V927.0H959.00Z" fill="#56508F"/>
<path d="M980.85 864.1H982.99V947.9H980.85ZM982.51 864.1H984.65V946.0H982.51ZM984.17 858.6H986.31V944.8H984.17ZM985.84 860.5H987.98V941.2H985.84Z" fill="#FF6161"/>
<path d="M987.50 872.4H989.64V930.6H987.50ZM989.16 914.6H991.30V980.4H989.16ZM990.83 922.2H992.73V985.2H990.83ZM992.25 922.2H994.39V990.6H992.25Z" fill="#BA4E93"/>
<path d="M993.91 924.6H996.05V985.2H993.91ZM995.58 910.4H997.71V980.4H995.58ZM997.24 909.2H999.38V980.4H997.24ZM998.90 909.2H1001.75V970.9H998.90Z" fill="#56508F"/>
<path d="M1020.75 874.8H1022.89V950.8H1020.75ZM1022.41 869.5H1024.55V953.1H1022.41ZM1024.08 861.7H1026.21V955.5H1024.08ZM1025.74 869.5H1027.88V955.5H1025.74Z" fill="#FF6161"/>
<path d="M1027.40 874.8H1029.54V940.1H1027.40ZM1028.83 915.1H1030.96V998.2H1028.83ZM1030.49 917.5H1032.62V982.8H1030.49ZM1032.15 917.5H1034.29V969.8H1032.15Z" fill="#BA4E93"/>
<path d="M1033.81 924.6H1035.95V990.6H1033.81ZM1035.47 922.2H1037.61V980.4H1035.47ZM1037.14 917.5H1039.28V974.5H1037.14ZM1038.80 922.2H1041.65V966.9H1038.80Z" fill="#56508F"/>
<path d="M786.58 874.8V918.7M788.24 874.8V918.7M789.90 872.4V934.6M791.56 869.5V923.4M792.99 872.4V923.4M794.65 872.4V930.6M796.31 871.2V934.1M797.62 871.2V934.1M798.92 872.4V929.4M800.47 872.4V918.7M824.34 818.9V899.7M826.00 821.3V899.7M827.66 821.3V893.8M829.09 818.9V885.4M831.94 896.1V957.9M833.48 887.8V957.9M835.03 893.8V957.9M836.69 893.8V950.8M838.35 893.8V950.8M839.89 893.8V953.1M864.00 829.6V905.1M865.66 826.8V918.7M867.33 823.7V919.9M869.11 893.8V929.4M870.77 893.8V972.1M872.08 906.8V974.5M873.74 906.8V967.4M875.40 906.8V967.4M877.06 896.1V966.2M878.49 893.8V950.8M880.15 887.8V929.4M903.66 845.8V917.5M905.21 845.8V917.5M906.51 851.0V917.5M908.17 851.0V917.5M911.74 917.5V969.8M913.40 913.9V969.8M915.06 909.2V967.4M916.37 906.8V963.8M917.67 893.8V963.8M919.22 891.4V963.8M920.41 885.4V923.4M943.09 861.7V923.4M944.75 855.8V943.6M946.41 848.6V927.0M948.08 845.8V922.2M949.14 911.6V922.2M950.69 917.5V972.1M952.35 917.5V972.1M954.01 917.5V969.8M955.79 917.5V963.8M957.58 906.8V937.7M959.24 885.4V927.0M982.75 864.1V946.0M984.41 864.1V944.8M986.08 860.5V941.2M987.74 872.4V930.6M989.40 914.6V930.6M991.06 922.2V980.4M992.49 922.2V985.2M994.15 924.6V985.2M995.81 924.6V980.4M997.47 910.4V980.4M999.14 909.2V970.9M1022.65 874.8V950.8M1024.31 869.5V953.1M1025.97 869.5V955.5M1027.64 874.8V940.1M1029.18 915.1V940.1M1030.72 917.5V982.8M1032.39 917.5V969.8M1034.05 924.6V969.8M1035.71 924.6V980.4M1037.38 922.2V974.5M1039.04 922.2V966.9" stroke="#EBEBEB" stroke-width="0.11" fill="none"/>
<path d="M764.19 1035.15H770.19M764.19 968.60H770.19M764.19 902.05H770.19M764.19 835.50H770.19M764.19 768.95H770.19M792.79 1048.46V1053.56M832.49 1048.46V1053.56M872.19 1048.46V1053.56M911.89 1048.46V1053.56M951.59 1048.46V1053.56M991.29 1048.46V1053.56M1030.99 1048.46V1053.56" stroke="#333" stroke-width="2.3" fill="none"/>
<text transform="translate(760.19,1041.30) scale(1.06,1)" font-size="16.4" fill="#000" text-anchor="end">0.00</text>
<text transform="translate(760.19,974.75) scale(1.06,1)" font-size="16.4" fill="#000" text-anchor="end">0.25</text>
<text transform="translate(760.19,908.20) scale(1.06,1)" font-size="16.4" fill="#000" text-anchor="end">0.50</text>
<text transform="translate(760.19,841.65) scale(1.06,1)" font-size="16.4" fill="#000" text-anchor="end">0.75</text>
<text transform="translate(760.19,775.10) scale(1.06,1)" font-size="16.4" fill="#000" text-anchor="end">1.00</text>
<text x="792.79" y="1070.36" font-size="17.0" fill="#000" text-anchor="middle">1</text>
<text x="832.49" y="1070.36" font-size="17.0" fill="#000" text-anchor="middle">2</text>
<text x="872.19" y="1070.36" font-size="17.0" fill="#000" text-anchor="middle">3</text>
<text x="911.89" y="1070.36" font-size="17.0" fill="#000" text-anchor="middle">4</text>
<text x="951.59" y="1070.36" font-size="17.0" fill="#000" text-anchor="middle">5</text>
<text x="991.29" y="1070.36" font-size="17.0" fill="#000" text-anchor="middle">10</text>
<text x="1030.99" y="1070.36" font-size="17.0" fill="#000" text-anchor="middle">15</text>
</g>
<g>
<rect x="95.93" y="1084.08" width="283.80" height="33.42" fill="#D9D9D9"/>
<text transform="translate(237.23,1107.48) scale(1.03,1)" font-size="16.6" fill="#1A1A1A" text-anchor="middle">GBPUSD</text>
<rect x="95.93" y="1117.50" width="283.80" height="292.82" fill="#EBEBEB"/>
<path d="M95.93 1363.73H379.73M95.93 1297.18H379.73M95.93 1230.63H379.73M95.93 1164.09H379.73M98.68 1117.50V1410.32M138.38 1117.50V1410.32M178.08 1117.50V1410.32M217.78 1117.50V1410.32M257.48 1117.50V1410.32M297.18 1117.50V1410.32M336.88 1117.50V1410.32M376.58 1117.50V1410.32" stroke="#fff" stroke-width="1.6" fill="none"/>
<path d="M95.93 1397.01H379.73M95.93 1330.46H379.73M95.93 1263.91H379.73M95.93 1197.36H379.73M95.93 1130.81H379.73M118.53 1117.50V1410.32M158.23 1117.50V1410.32M197.93 1117.50V1410.32M237.63 1117.50V1410.32M277.33 1117.50V1410.32M317.03 1117.50V1410.32M356.73 1117.50V1410.32" stroke="#fff" stroke-width="2.4" fill="none"/>
<path d="M95.93 1184.05H379.73" stroke="#00FF00" stroke-width="2.1" fill="none"/>
<path d="M95.93 1237.29H379.73" stroke="#0000FF" stroke-width="2.1" stroke-dasharray="8.17 8.17" fill="none"/>
<path d="M108.30 1141.0H110.44V1155.3H108.30ZM110.20 1138.2H112.58V1163.6H110.20ZM112.34 1236.8H114.47V1296.1H112.34ZM114.00 1231.5H116.14V1302.1H114.00ZM115.66 1231.5H117.80V1289.0H115.66ZM117.33 1234.4H119.22V1293.8H117.33Z" fill="#FF6161"/>
<path d="M118.75 1234.4H120.89V1293.8H118.75ZM120.41 1239.1H122.55V1279.5H120.41ZM122.08 1239.1H123.97V1315.6H122.08ZM123.50 1220.6H125.64V1293.8H123.50ZM125.16 1231.5H127.06V1278.3H125.16ZM126.59 1231.5H128.72V1278.3H126.59Z" fill="#BA4E93"/>
<path d="M147.96 1175.0H150.10V1224.9H147.96ZM149.62 1169.1H151.76V1283.5H149.62ZM151.29 1164.8H153.43V1214.2H151.29ZM153.43 1241.5H155.56V1306.8H153.43ZM155.09 1236.8H157.22V1339.3H155.09Z" fill="#FF6161"/>
<path d="M156.99 1252.9H159.12V1293.8H156.99ZM158.65 1251.0H160.79V1336.5H158.65ZM160.31 1234.4H162.45V1321.1H160.31ZM161.98 1252.9H163.88V1304.4H161.98ZM163.40 1239.1H165.30V1292.6H163.40ZM164.82 1241.5H166.49V1291.4H164.82Z" fill="#BA4E93"/>
<path d="M166.25 1239.6H168.39V1291.4H166.25Z" fill="#56508F"/>
<path d="M187.86 1191.2H190.00V1278.3H187.86ZM189.53 1188.5H191.66V1296.1H189.53ZM191.19 1234.4H193.32V1272.4H191.19ZM192.85 1234.4H194.99V1336.5H192.85ZM194.51 1245.1H196.65V1296.1H194.51Z" fill="#FF6161"/>
<path d="M196.18 1251.0H198.31V1330.6H196.18ZM197.60 1249.8H199.50V1336.5H197.60ZM199.03 1258.1H201.16V1324.6H199.03ZM200.69 1260.5H202.82V1322.2H200.69ZM202.35 1260.5H204.25V1323.4H202.35Z" fill="#BA4E93"/>
<path d="M203.78 1245.1H205.91V1306.8H203.78ZM205.44 1199.5H208.29V1276.7H205.44Z" fill="#56508F"/>
<path d="M227.53 1207.8H229.66V1296.6H227.53ZM229.19 1202.3H231.33V1299.7H229.19ZM230.85 1201.1H232.99V1285.4H230.85ZM232.51 1199.9H234.65V1280.7H232.51ZM234.18 1199.9H236.08V1279.5H234.18Z" fill="#FF6161"/>
<path d="M235.60 1268.8H237.74V1325.8H235.60ZM237.26 1260.5H239.40V1341.7H237.26ZM238.93 1260.5H241.06V1332.9H238.93ZM240.59 1249.8H242.49V1341.7H240.59ZM242.01 1260.5H243.91V1324.6H242.01Z" fill="#BA4E93"/>
<path d="M243.44 1247.4H245.58V1305.6H243.44ZM245.10 1250.3H247.71V1325.8H245.10Z" fill="#56508F"/>
<path d="M267.19 1210.6H269.33V1312.8H267.19ZM268.85 1211.8H270.99V1315.1H268.85ZM270.51 1215.4H272.65V1308.0H270.51ZM272.18 1210.6H274.31V1352.7H272.18ZM273.60 1210.6H275.50V1296.1H273.60Z" fill="#FF6161"/>
<path d="M275.26 1266.4H277.40V1342.4H275.26ZM276.93 1262.9H279.06V1347.2H276.93ZM278.59 1253.4H280.73V1353.1H278.59ZM280.25 1262.9H282.15V1347.2H280.25Z" fill="#BA4E93"/>
<path d="M281.91 1260.5H284.05V1355.0H281.91ZM283.34 1241.5H285.48V1296.1H283.34ZM285.00 1213.0H287.61V1293.8H285.00Z" fill="#56508F"/>
<path d="M306.85 1215.4H308.99V1309.9H306.85ZM308.51 1215.4H310.65V1315.1H308.51ZM310.18 1215.4H312.31V1315.1H310.18ZM311.84 1215.4H313.98V1308.0H311.84Z" fill="#FF6161"/>
<path d="M313.74 1286.6H315.88V1340.1H313.74ZM315.16 1270.0H317.30V1355.0H315.16ZM316.83 1267.6H318.96V1349.6H316.83ZM318.25 1264.1H320.39V1341.2H318.25Z" fill="#BA4E93"/>
<path d="M319.91 1260.5H322.05V1338.9H319.91ZM321.58 1258.1H323.71V1338.9H321.58ZM323.00 1260.5H325.14V1331.8H323.00ZM324.66 1228.9H327.51V1312.8H324.66Z" fill="#56508F"/>
<path d="M346.27 1220.6H348.41V1319.9H346.27ZM347.94 1231.5H350.08V1312.8H347.94ZM349.60 1223.7H351.74V1331.0H349.60ZM351.26 1217.8H353.40V1308.0H351.26Z" fill="#FF6161"/>
<path d="M353.16 1271.2H355.30V1351.9H353.16ZM354.82 1279.5H356.96V1347.2H354.82ZM356.49 1284.2H358.62V1355.0H356.49ZM358.15 1284.2H360.05V1344.8H358.15Z" fill="#BA4E93"/>
<path d="M359.57 1279.5H361.71V1336.5H359.57ZM361.24 1260.5H363.38V1336.5H361.24ZM362.66 1255.8H364.80V1341.7H362.66ZM364.32 1218.2H367.18V1293.8H364.32Z" fill="#56508F"/>
<path d="M110.32 1141.0V1155.3M114.24 1236.8V1296.1M115.90 1231.5V1289.0M117.56 1234.4V1289.0M118.99 1234.4V1293.8M120.65 1239.1V1279.5M122.31 1239.1V1279.5M123.74 1239.1V1293.8M125.40 1231.5V1278.3M126.83 1231.5V1278.3M149.86 1175.0V1224.9M151.52 1169.1V1214.2M155.32 1241.5V1306.8M157.11 1252.9V1293.8M158.89 1252.9V1293.8M160.55 1251.0V1321.1M162.21 1252.9V1304.4M163.64 1252.9V1292.6M165.06 1241.5V1291.4M166.37 1241.5V1291.4M189.76 1191.2V1278.3M191.43 1234.4V1272.4M193.09 1234.4V1272.4M194.75 1245.1V1296.1M196.41 1251.0V1296.1M197.96 1251.0V1330.6M199.26 1258.1V1324.6M200.93 1260.5V1322.2M202.59 1260.5V1322.2M204.01 1260.5V1306.8M205.68 1245.1V1276.7M229.43 1207.8V1296.6M231.09 1202.3V1285.4M232.75 1201.1V1280.7M234.41 1199.9V1279.5M235.84 1268.8V1279.5M237.50 1268.8V1325.8M239.16 1260.5V1332.9M240.82 1260.5V1332.9M242.25 1260.5V1324.6M243.68 1260.5V1305.6M245.34 1250.3V1305.6M269.09 1211.8V1312.8M270.75 1215.4V1308.0M272.41 1215.4V1308.0M273.96 1210.6V1296.1M275.38 1266.4V1296.1M277.16 1266.4V1342.4M278.82 1262.9V1347.2M280.49 1262.9V1347.2M282.03 1262.9V1347.2M283.69 1260.5V1296.1M285.24 1241.5V1293.8M308.75 1215.4V1309.9M310.41 1215.4V1315.1M312.07 1215.4V1308.0M313.86 1286.6V1308.0M315.52 1286.6V1340.1M317.06 1270.0V1349.6M318.61 1267.6V1341.2M320.15 1264.1V1338.9M321.81 1260.5V1338.9M323.36 1260.5V1331.8M324.90 1260.5V1312.8M348.18 1231.5V1312.8M349.84 1231.5V1312.8M351.50 1223.7V1308.0M353.28 1271.2V1308.0M355.06 1279.5V1347.2M356.73 1284.2V1347.2M358.39 1284.2V1344.8M359.81 1284.2V1336.5M361.48 1279.5V1336.5M363.02 1260.5V1336.5M364.56 1255.8V1293.8" stroke="#EBEBEB" stroke-width="0.11" fill="none"/>
<path d="M89.93 1397.01H95.93M89.93 1330.46H95.93M89.93 1263.91H95.93M89.93 1197.36H95.93M89.93 1130.81H95.93M118.53 1410.32V1415.42M158.23 1410.32V1415.42M197.93 1410.32V1415.42M237.63 1410.32V1415.42M277.33 1410.32V1415.42M317.03 1410.32V1415.42M356.73 1410.32V1415.42" stroke="#333" stroke-width="2.3" fill="none"/>
<text transform="translate(85.93,1403.16) scale(1.06,1)" font-size="16.4" fill="#000" text-anchor="end">0.00</text>
<text transform="translate(85.93,1336.61) scale(1.06,1)" font-size="16.4" fill="#000" text-anchor="end">0.25</text>
<text transform="translate(85.93,1270.06) scale(1.06,1)" font-size="16.4" fill="#000" text-anchor="end">0.50</text>
<text transform="translate(85.93,1203.51) scale(1.06,1)" font-size="16.4" fill="#000" text-anchor="end">0.75</text>
<text transform="translate(85.93,1136.96) scale(1.06,1)" font-size="16.4" fill="#000" text-anchor="end">1.00</text>
<text x="118.53" y="1432.22" font-size="17.0" fill="#000" text-anchor="middle">1</text>
<text x="158.23" y="1432.22" font-size="17.0" fill="#000" text-anchor="middle">2</text>
<text x="197.93" y="1432.22" font-size="17.0" fill="#000" text-anchor="middle">3</text>
<text x="237.63" y="1432.22" font-size="17.0" fill="#000" text-anchor="middle">4</text>
<text x="277.33" y="1432.22" font-size="17.0" fill="#000" text-anchor="middle">5</text>
<text x="317.03" y="1432.22" font-size="17.0" fill="#000" text-anchor="middle">10</text>
<text x="356.73" y="1432.22" font-size="17.0" fill="#000" text-anchor="middle">15</text>
</g>
<g>
<rect x="433.06" y="1084.08" width="283.80" height="33.42" fill="#D9D9D9"/>
<text transform="translate(574.36,1107.48) scale(1.03,1)" font-size="16.6" fill="#1A1A1A" text-anchor="middle">NZDUSD</text>
<rect x="433.06" y="1117.50" width="283.80" height="292.82" fill="#EBEBEB"/>
<path d="M433.06 1363.73H716.86M433.06 1297.18H716.86M433.06 1230.63H716.86M433.06 1164.09H716.86M435.81 1117.50V1410.32M475.51 1117.50V1410.32M515.21 1117.50V1410.32M554.91 1117.50V1410.32M594.61 1117.50V1410.32M634.31 1117.50V1410.32M674.01 1117.50V1410.32M713.71 1117.50V1410.32" stroke="#fff" stroke-width="1.6" fill="none"/>
<path d="M433.06 1397.01H716.86M433.06 1330.46H716.86M433.06 1263.91H716.86M433.06 1197.36H716.86M433.06 1130.81H716.86M455.66 1117.50V1410.32M495.36 1117.50V1410.32M535.06 1117.50V1410.32M574.76 1117.50V1410.32M614.46 1117.50V1410.32M654.16 1117.50V1410.32M693.86 1117.50V1410.32" stroke="#fff" stroke-width="2.4" fill="none"/>
<path d="M433.06 1184.05H716.86" stroke="#00FF00" stroke-width="2.1" fill="none"/>
<path d="M433.06 1237.29H716.86" stroke="#0000FF" stroke-width="2.1" stroke-dasharray="8.17 8.17" fill="none"/>
<path d="M445.77 1141.0H447.91V1158.4H445.77ZM447.44 1138.2H449.81V1158.4H447.44ZM449.57 1241.5H451.71V1289.0H449.57ZM451.24 1239.1H453.38V1294.9H451.24ZM452.90 1236.8H455.04V1299.7H452.90ZM454.56 1236.8H456.46V1289.0H454.56Z" fill="#FF6161"/>
<path d="M455.51 1228.4H457.65V1289.0H455.51ZM457.18 1234.4H459.31V1299.7H457.18ZM458.84 1234.4H460.74V1294.9H458.84ZM460.02 1234.4H461.93V1321.1H460.02ZM461.45 1236.8H463.59V1293.8H461.45ZM463.11 1228.4H465.73V1274.8H463.11Z" fill="#BA4E93"/>
<path d="M485.20 1180.9H487.34V1261.7H485.20ZM486.86 1175.0H489.00V1278.3H486.86ZM488.52 1173.8H490.66V1261.7H488.52ZM490.19 1172.6H492.32V1270.0H490.19ZM491.38 1169.8H493.27V1260.5H491.38ZM492.80 1260.5H494.70V1323.4H492.80Z" fill="#FF6161"/>
<path d="M493.99 1249.8H496.12V1331.8H493.99ZM495.65 1255.8H497.79V1336.5H495.65ZM497.31 1247.4H499.45V1336.5H497.31ZM498.98 1247.4H501.11V1338.9H498.98ZM500.64 1249.8H502.77V1315.1H500.64Z" fill="#BA4E93"/>
<path d="M502.54 1223.2H505.62V1299.2H502.54Z" fill="#56508F"/>
<path d="M525.10 1199.5H527.24V1280.7H525.10ZM526.76 1188.5H528.90V1284.2H526.76ZM528.42 1199.9H530.56V1296.6H528.42ZM530.09 1194.0H532.23V1284.2H530.09Z" fill="#FF6161"/>
<path d="M531.99 1273.6H534.12V1335.3H531.99ZM533.17 1255.3H535.08V1341.7H533.17ZM534.60 1266.4H536.74V1328.2H534.60ZM536.26 1265.2H538.40V1336.5H536.26ZM537.92 1262.9H540.06V1323.4H537.92ZM539.59 1253.4H541.49V1336.5H539.59Z" fill="#BA4E93"/>
<path d="M541.01 1242.0H543.15V1297.3H541.01ZM542.67 1247.4H545.52V1302.1H542.67Z" fill="#56508F"/>
<path d="M564.52 1204.7H566.66V1296.1H564.52ZM566.19 1202.3H568.33V1306.8H566.19ZM567.85 1202.3H569.99V1302.1H567.85ZM569.51 1199.9H571.65V1309.9H569.51ZM570.94 1199.5H572.84V1294.9H570.94Z" fill="#FF6161"/>
<path d="M572.36 1275.9H574.50V1336.5H572.36ZM574.02 1271.2H576.16V1338.9H574.02ZM575.69 1268.8H577.83V1334.1H575.69ZM577.35 1271.2H579.25V1331.8H577.35ZM578.77 1271.2H580.67V1338.9H578.77Z" fill="#BA4E93"/>
<path d="M580.20 1265.2H582.34V1325.8H580.20ZM581.62 1245.1H583.52V1296.1H581.62ZM582.81 1210.2H585.19V1296.1H582.81Z" fill="#56508F"/>
<path d="M604.19 1213.0H606.33V1317.5H604.19ZM605.85 1210.6H607.99V1315.1H605.85ZM607.51 1205.4H609.65V1321.1H607.51ZM609.17 1207.8H611.31V1305.6H609.17ZM610.60 1207.8H612.50V1296.1H610.60Z" fill="#FF6161"/>
<path d="M612.02 1262.9H614.16V1341.2H612.02ZM613.69 1271.2H615.83V1347.2H613.69ZM615.35 1271.2H617.49V1352.7H615.35ZM617.01 1272.4H618.91V1351.9H617.01Z" fill="#BA4E93"/>
<path d="M618.44 1258.1H620.58V1340.1H618.44ZM619.86 1247.4H622.00V1334.1H619.86ZM621.29 1245.1H623.19V1300.9H621.29ZM622.48 1242.0H624.61V1300.9H622.48Z" fill="#56508F"/>
<path d="M643.85 1223.7H645.99V1321.1H643.85ZM645.51 1220.6H647.65V1302.1H645.51ZM647.17 1213.0H649.31V1305.6H647.17ZM648.60 1220.6H650.50V1302.1H648.60Z" fill="#FF6161"/>
<path d="M650.26 1223.7H652.40V1312.8H650.26ZM651.92 1277.1H654.06V1360.2H651.92ZM653.59 1284.2H655.73V1353.1H653.59ZM655.25 1289.0H657.15V1347.2H655.25Z" fill="#BA4E93"/>
<path d="M656.67 1279.5H658.81V1336.5H656.67ZM658.10 1271.2H660.24V1347.2H658.10ZM659.52 1253.4H661.66V1349.6H659.52ZM660.95 1249.8H662.85V1310.4H660.95ZM662.38 1247.4H664.75V1308.0H662.38Z" fill="#56508F"/>
<path d="M683.51 1228.4H685.65V1317.5H683.51ZM685.17 1223.7H687.31V1323.4H685.17ZM686.84 1220.6H688.98V1302.1H686.84ZM688.26 1220.6H690.16V1300.9H688.26Z" fill="#FF6161"/>
<path d="M689.69 1220.6H691.83V1330.6H689.69ZM691.35 1284.2H693.49V1338.9H691.35ZM692.78 1277.1H694.67V1357.9H692.78ZM694.20 1276.7H696.34V1347.2H694.20Z" fill="#BA4E93"/>
<path d="M695.86 1284.2H698.00V1344.8H695.86ZM697.29 1271.2H699.42V1342.4H697.29ZM698.95 1268.8H701.09V1340.1H698.95ZM700.38 1279.5H702.51V1340.1H700.38ZM701.80 1260.5H704.41V1341.2H701.80Z" fill="#56508F"/>
<path d="M447.68 1141.0V1158.4M451.48 1241.5V1289.0M453.14 1239.1V1294.9M454.80 1236.8V1289.0M455.99 1236.8V1289.0M457.41 1234.4V1289.0M459.07 1234.4V1294.9M460.38 1234.4V1294.9M461.69 1236.8V1293.8M463.35 1236.8V1274.8M487.10 1180.9V1261.7M488.76 1175.0V1261.7M490.43 1173.8V1261.7M491.85 1172.6V1260.5M494.34 1260.5V1323.4M495.89 1255.8V1331.8M497.55 1255.8V1336.5M499.21 1247.4V1336.5M500.88 1249.8V1315.1M502.66 1249.8V1299.2M527.00 1199.5V1280.7M528.66 1199.9V1284.2M530.33 1199.9V1284.2M532.11 1273.6V1284.2M533.65 1273.6V1335.3M534.84 1266.4V1328.2M536.50 1266.4V1328.2M538.16 1265.2V1323.4M539.83 1262.9V1323.4M541.25 1253.4V1297.3M542.91 1247.4V1297.3M566.42 1204.7V1296.1M568.09 1202.3V1302.1M569.75 1202.3V1302.1M571.29 1199.9V1294.9M572.60 1275.9V1294.9M574.26 1275.9V1336.5M575.92 1271.2V1334.1M577.59 1271.2V1331.8M579.01 1271.2V1331.8M580.44 1271.2V1325.8M581.98 1265.2V1296.1M583.17 1245.1V1296.1M606.09 1213.0V1315.1M607.75 1210.6V1315.1M609.41 1207.8V1305.6M610.96 1207.8V1296.1M612.26 1262.9V1296.1M613.92 1271.2V1341.2M615.59 1271.2V1347.2M617.25 1272.4V1351.9M618.67 1272.4V1340.1M620.22 1258.1V1334.1M621.64 1247.4V1300.9M622.83 1245.1V1300.9M645.75 1223.7V1302.1M647.41 1220.6V1302.1M648.96 1220.6V1302.1M650.38 1223.7V1302.1M652.16 1277.1V1312.8M653.83 1284.2V1353.1M655.49 1289.0V1347.2M656.91 1289.0V1336.5M658.46 1279.5V1336.5M659.88 1271.2V1347.2M661.31 1253.4V1310.4M662.61 1249.8V1308.0M685.41 1228.4V1317.5M687.08 1223.7V1302.1M688.62 1220.6V1300.9M689.92 1220.6V1300.9M691.59 1284.2V1330.6M693.13 1284.2V1338.9M694.44 1277.1V1347.2M696.10 1284.2V1344.8M697.64 1284.2V1342.4M699.19 1271.2V1340.1M700.73 1279.5V1340.1M702.16 1279.5V1340.1" stroke="#EBEBEB" stroke-width="0.11" fill="none"/>
<path d="M427.06 1397.01H433.06M427.06 1330.46H433.06M427.06 1263.91H433.06M427.06 1197.36H433.06M427.06 1130.81H433.06M455.66 1410.32V1415.42M495.36 1410.32V1415.42M535.06 1410.32V1415.42M574.76 1410.32V1415.42M614.46 1410.32V1415.42M654.16 1410.32V1415.42M693.86 1410.32V1415.42" stroke="#333" stroke-width="2.3" fill="none"/>
<text transform="translate(423.06,1403.16) scale(1.06,1)" font-size="16.4" fill="#000" text-anchor="end">0.00</text>
<text transform="translate(423.06,1336.61) scale(1.06,1)" font-size="16.4" fill="#000" text-anchor="end">0.25</text>
<text transform="translate(423.06,1270.06) scale(1.06,1)" font-size="16.4" fill="#000" text-anchor="end">0.50</text>
<text transform="translate(423.06,1203.51) scale(1.06,1)" font-size="16.4" fill="#000" text-anchor="end">0.75</text>
<text transform="translate(423.06,1136.96) scale(1.06,1)" font-size="16.4" fill="#000" text-anchor="end">1.00</text>
<text x="455.66" y="1432.22" font-size="17.0" fill="#000" text-anchor="middle">1</text>
<text x="495.36" y="1432.22" font-size="17.0" fill="#000" text-anchor="middle">2</text>
<text x="535.06" y="1432.22" font-size="17.0" fill="#000" text-anchor="middle">3</text>
<text x="574.76" y="1432.22" font-size="17.0" fill="#000" text-anchor="middle">4</text>
<text x="614.46" y="1432.22" font-size="17.0" fill="#000" text-anchor="middle">5</text>
<text x="654.16" y="1432.22" font-size="17.0" fill="#000" text-anchor="middle">10</text>
<text x="693.86" y="1432.22" font-size="17.0" fill="#000" text-anchor="middle">15</text>
</g>
<g>
<rect x="770.19" y="1084.08" width="283.80" height="33.42" fill="#D9D9D9"/>
<text transform="translate(911.49,1107.48) scale(1.03,1)" font-size="16.6" fill="#1A1A1A" text-anchor="middle">USDCNY</text>
<rect x="770.19" y="1117.50" width="283.80" height="292.82" fill="#EBEBEB"/>
<path d="M770.19 1363.73H1053.99M770.19 1297.18H1053.99M770.19 1230.63H1053.99M770.19 1164.09H1053.99M772.94 1117.50V1410.32M812.64 1117.50V1410.32M852.34 1117.50V1410.32M892.04 1117.50V1410.32M931.74 1117.50V1410.32M971.44 1117.50V1410.32M1011.14 1117.50V1410.32M1050.84 1117.50V1410.32" stroke="#fff" stroke-width="1.6" fill="none"/>
<path d="M770.19 1397.01H1053.99M770.19 1330.46H1053.99M770.19 1263.91H1053.99M770.19 1197.36H1053.99M770.19 1130.81H1053.99M792.79 1117.50V1410.32M832.49 1117.50V1410.32M872.19 1117.50V1410.32M911.89 1117.50V1410.32M951.59 1117.50V1410.32M991.29 1117.50V1410.32M1030.99 1117.50V1410.32" stroke="#fff" stroke-width="2.4" fill="none"/>
<path d="M770.19 1184.05H1053.99" stroke="#00FF00" stroke-width="2.1" fill="none"/>
<path d="M770.19 1237.29H1053.99" stroke="#0000FF" stroke-width="2.1" stroke-dasharray="8.17 8.17" fill="none"/>
<path d="M782.77 1212.5H784.91V1286.2H782.77ZM784.44 1212.5H786.58V1289.0H784.44ZM786.10 1222.5H788.24V1289.0H786.10ZM787.52 1226.1H789.42V1307.3H787.52ZM789.19 1226.1H791.09V1285.4H789.19ZM790.85 1226.1H792.75V1285.4H790.85ZM791.56 1217.8H793.70V1312.8H791.56Z" fill="#FF6161"/>
<path d="M793.23 1226.1H795.36V1299.7H793.23ZM794.89 1223.7H797.02V1291.4H794.89ZM796.31 1207.1H798.45V1291.4H796.31ZM797.98 1220.6H800.11V1305.2H797.98ZM799.64 1220.6H801.77V1291.4H799.64ZM801.06 1223.2H803.20V1291.4H801.06Z" fill="#BA4E93"/>
<path d="M822.44 1172.6H824.81V1200.7H822.44ZM824.58 1247.4H826.71V1336.5H824.58ZM826.24 1252.9H828.38V1318.7H826.24ZM827.90 1255.8H830.04V1339.3H827.90ZM829.56 1252.9H831.70V1312.8H829.56Z" fill="#FF6161"/>
<path d="M831.23 1252.9H833.36V1312.8H831.23ZM832.89 1247.4H835.02V1310.4H832.89ZM834.55 1245.1H836.69V1302.1H834.55ZM836.21 1241.5H838.35V1286.6H836.21ZM837.88 1239.1H840.01V1306.8H837.88ZM839.54 1236.8H842.62V1306.8H839.54Z" fill="#BA4E93"/>
<path d="M862.10 1191.2H864.48V1280.7H862.10ZM864.00 1271.2H866.14V1352.7H864.00ZM865.66 1262.9H867.80V1325.8H865.66ZM867.33 1275.9H869.46V1338.9H867.33ZM868.99 1275.9H871.12V1328.2H868.99ZM870.65 1275.9H872.55V1321.1H870.65Z" fill="#FF6161"/>
<path d="M872.08 1262.9H874.21V1328.9H872.08ZM873.74 1247.4H875.88V1297.3H873.74ZM875.40 1247.4H877.54V1321.1H875.40ZM877.06 1252.2H879.20V1321.1H877.06ZM878.73 1253.4H880.62V1331.8H878.73ZM880.15 1255.3H882.52V1323.4H880.15Z" fill="#BA4E93"/>
<path d="M901.76 1180.2H903.90V1288.5H901.76ZM903.42 1194.0H905.56V1275.9H903.42ZM905.09 1234.4H907.23V1334.1H905.09ZM906.75 1234.4H908.89V1328.9H906.75ZM908.41 1241.5H910.55V1334.1H908.41ZM910.08 1241.5H911.98V1334.1H910.08Z" fill="#FF6161"/>
<path d="M911.50 1263.3H913.64V1334.1H911.50ZM913.16 1249.8H915.30V1329.4H913.16ZM914.83 1255.8H916.73V1332.9H914.83ZM916.25 1260.5H918.39V1332.9H916.25ZM917.91 1271.2H919.81V1334.1H917.91ZM919.34 1257.7H922.19V1328.9H919.34Z" fill="#BA4E93"/>
<path d="M941.19 1204.7H943.33V1286.2H941.19ZM942.85 1204.7H944.99V1296.6H942.85ZM944.51 1247.4H946.65V1341.7H944.51ZM946.17 1251.0H948.31V1341.7H946.17ZM947.84 1255.8H949.98V1341.2H947.84ZM949.50 1258.1H951.40V1344.8H949.50Z" fill="#FF6161"/>
<path d="M950.69 1252.9H952.83V1342.4H950.69ZM952.35 1272.4H954.49V1340.1H952.35ZM954.01 1272.4H956.15V1338.9H954.01ZM955.44 1260.5H957.34V1334.1H955.44ZM956.86 1273.6H959.00V1336.5H956.86ZM958.52 1263.3H961.61V1328.9H958.52Z" fill="#BA4E93"/>
<path d="M980.85 1217.8H982.99V1315.1H980.85ZM982.51 1215.4H984.65V1305.6H982.51ZM984.17 1220.6H986.31V1331.8H984.17ZM985.84 1273.6H987.98V1336.5H985.84ZM987.50 1273.6H989.40V1360.2H987.50ZM988.92 1268.8H990.83V1347.2H988.92Z" fill="#FF6161"/>
<path d="M990.11 1268.8H992.25V1342.4H990.11ZM991.77 1273.6H993.91V1351.9H991.77ZM993.20 1273.6H995.10V1355.0H993.20ZM994.62 1271.2H996.76V1344.8H994.62ZM996.29 1260.5H998.19V1338.9H996.29ZM997.48 1258.1H999.38V1332.9H997.48Z" fill="#BA4E93"/>
<path d="M998.90 1262.9H1001.51V1323.4H998.90Z" fill="#56508F"/>
<path d="M1020.75 1228.4H1022.89V1336.5H1020.75ZM1022.41 1217.8H1024.55V1325.8H1022.41ZM1024.08 1226.1H1026.21V1325.8H1024.08ZM1025.50 1220.6H1027.40V1319.9H1025.50ZM1026.92 1231.5H1028.83V1305.6H1026.92Z" fill="#FF6161"/>
<path d="M1028.35 1277.1H1030.49V1325.8H1028.35ZM1030.01 1289.0H1032.15V1334.1H1030.01ZM1031.44 1273.6H1033.34V1350.3H1031.44ZM1032.86 1274.8H1034.76V1344.8H1032.86ZM1034.29 1289.0H1036.19V1336.5H1034.29Z" fill="#BA4E93"/>
<path d="M1035.71 1277.1H1037.85V1331.0H1035.71ZM1037.38 1271.2H1039.51V1323.4H1037.38ZM1038.80 1228.4H1041.41V1293.8H1038.80Z" fill="#56508F"/>
<path d="M784.67 1212.5V1286.2M786.34 1222.5V1289.0M787.88 1226.1V1289.0M789.31 1226.1V1285.4M790.97 1226.1V1285.4M792.16 1226.1V1285.4M793.46 1226.1V1299.7M795.12 1226.1V1291.4M796.67 1223.7V1291.4M798.21 1220.6V1291.4M799.88 1220.6V1291.4M801.42 1223.2V1291.4M826.47 1252.9V1318.7M828.14 1255.8V1318.7M829.80 1255.8V1312.8M831.46 1252.9V1312.8M833.12 1252.9V1310.4M834.79 1247.4V1302.1M836.45 1245.1V1286.6M838.11 1241.5V1286.6M839.78 1239.1V1306.8M864.24 1271.2V1280.7M865.90 1271.2V1325.8M867.56 1275.9V1325.8M869.22 1275.9V1328.2M870.89 1275.9V1321.1M872.31 1275.9V1321.1M873.97 1262.9V1297.3M875.64 1247.4V1297.3M877.30 1252.2V1321.1M878.96 1253.4V1321.1M880.39 1255.3V1323.4M903.66 1194.0V1275.9M905.33 1234.4V1275.9M906.99 1234.4V1328.9M908.65 1241.5V1328.9M910.31 1241.5V1334.1M911.74 1263.3V1334.1M913.40 1263.3V1329.4M915.06 1255.8V1329.4M916.49 1260.5V1332.9M918.15 1271.2V1332.9M919.58 1271.2V1328.9M943.09 1204.7V1286.2M944.75 1247.4V1296.6M946.41 1251.0V1341.7M948.08 1255.8V1341.2M949.74 1258.1V1341.2M951.04 1258.1V1342.4M952.59 1272.4V1340.1M954.25 1272.4V1338.9M955.79 1272.4V1334.1M957.10 1273.6V1334.1M958.76 1273.6V1328.9M982.75 1217.8V1305.6M984.41 1220.6V1305.6M986.08 1273.6V1331.8M987.74 1273.6V1336.5M989.16 1273.6V1347.2M990.47 1268.8V1342.4M992.01 1273.6V1342.4M993.56 1273.6V1351.9M994.86 1273.6V1344.8M996.53 1271.2V1338.9M997.83 1260.5V1332.9M999.14 1262.9V1323.4M1022.65 1228.4V1325.8M1024.31 1226.1V1325.8M1025.86 1226.1V1319.9M1027.16 1231.5V1305.6M1028.59 1277.1V1305.6M1030.25 1289.0V1325.8M1031.79 1289.0V1334.1M1033.10 1274.8V1344.8M1034.53 1289.0V1336.5M1035.95 1289.0V1331.0M1037.61 1277.1V1323.4M1039.16 1271.2V1293.8" stroke="#EBEBEB" stroke-width="0.11" fill="none"/>
<path d="M764.19 1397.01H770.19M764.19 1330.46H770.19M764.19 1263.91H770.19M764.19 1197.36H770.19M764.19 1130.81H770.19M792.79 1410.32V1415.42M832.49 1410.32V1415.42M872.19 1410.32V1415.42M911.89 1410.32V1415.42M951.59 1410.32V1415.42M991.29 1410.32V1415.42M1030.99 1410.32V1415.42" stroke="#333" stroke-width="2.3" fill="none"/>
<text transform="translate(760.19,1403.16) scale(1.06,1)" font-size="16.4" fill="#000" text-anchor="end">0.00</text>
<text transform="translate(760.19,1336.61) scale(1.06,1)" font-size="16.4" fill="#000" text-anchor="end">0.25</text>
<text transform="translate(760.19,1270.06) scale(1.06,1)" font-size="16.4" fill="#000" text-anchor="end">0.50</text>
<text transform="translate(760.19,1203.51) scale(1.06,1)" font-size="16.4" fill="#000" text-anchor="end">0.75</text>
<text transform="translate(760.19,1136.96) scale(1.06,1)" font-size="16.4" fill="#000" text-anchor="end">1.00</text>
<text x="792.79" y="1432.22" font-size="17.0" fill="#000" text-anchor="middle">1</text>
<text x="832.49" y="1432.22" font-size="17.0" fill="#000" text-anchor="middle">2</text>
<text x="872.19" y="1432.22" font-size="17.0" fill="#000" text-anchor="middle">3</text>
<text x="911.89" y="1432.22" font-size="17.0" fill="#000" text-anchor="middle">4</text>
<text x="951.59" y="1432.22" font-size="17.0" fill="#000" text-anchor="middle">5</text>
<text x="991.29" y="1432.22" font-size="17.0" fill="#000" text-anchor="middle">10</text>
<text x="1030.99" y="1432.22" font-size="17.0" fill="#000" text-anchor="middle">15</text>
</g>
<g>
<rect x="95.93" y="1445.94" width="283.80" height="33.42" fill="#D9D9D9"/>
<text transform="translate(237.23,1469.34) scale(1.03,1)" font-size="16.6" fill="#1A1A1A" text-anchor="middle">USDJPY</text>
<rect x="95.93" y="1479.36" width="283.80" height="292.82" fill="#EBEBEB"/>
<path d="M95.93 1725.60H379.73M95.93 1659.05H379.73M95.93 1592.50H379.73M95.93 1525.95H379.73M98.68 1479.36V1772.18M138.38 1479.36V1772.18M178.08 1479.36V1772.18M217.78 1479.36V1772.18M257.48 1479.36V1772.18M297.18 1479.36V1772.18M336.88 1479.36V1772.18M376.58 1479.36V1772.18" stroke="#fff" stroke-width="1.6" fill="none"/>
<path d="M95.93 1758.87H379.73M95.93 1692.32H379.73M95.93 1625.77H379.73M95.93 1559.22H379.73M95.93 1492.67H379.73M118.53 1479.36V1772.18M158.23 1479.36V1772.18M197.93 1479.36V1772.18M237.63 1479.36V1772.18M277.33 1479.36V1772.18M317.03 1479.36V1772.18M356.73 1479.36V1772.18" stroke="#fff" stroke-width="2.4" fill="none"/>
<path d="M95.93 1545.91H379.73" stroke="#00FF00" stroke-width="2.1" fill="none"/>
<path d="M95.93 1599.15H379.73" stroke="#0000FF" stroke-width="2.1" stroke-dasharray="8.17 8.17" fill="none"/>
<path d="M108.30 1497.1H110.44V1514.9H108.30ZM110.20 1577.4H112.34V1642.7H110.20ZM111.86 1582.1H114.00V1629.6H111.86ZM113.53 1571.4H115.66V1651.0H113.53ZM114.71 1566.2H116.61V1651.0H114.71ZM116.14 1574.5H118.04V1669.3H116.14ZM117.56 1575.0H119.46V1664.1H117.56Z" fill="#FF6161"/>
<path d="M118.28 1577.4H120.41V1727.7H118.28ZM119.94 1574.5H122.08V1664.1H119.94ZM121.60 1579.8H123.74V1640.3H121.60ZM123.26 1579.8H125.40V1640.3H123.26ZM124.92 1579.8H126.83V1640.3H124.92ZM126.35 1582.6H128.72V1666.4H126.35Z" fill="#BA4E93"/>
<path d="M147.96 1545.3H150.10V1610.6H147.96ZM149.62 1542.2H151.76V1616.6H149.62ZM151.29 1609.4H153.43V1680.0H151.29ZM152.95 1622.5H155.09V1674.8H152.95ZM154.61 1617.8H156.75V1661.7H154.61Z" fill="#FF6161"/>
<path d="M156.28 1617.8H158.41V1683.1H156.28ZM157.46 1609.4H159.60V1696.1H157.46ZM159.12 1609.4H161.26V1687.8H159.12ZM160.79 1609.4H162.93V1683.1H160.79ZM162.45 1609.4H164.59V1679.5H162.45ZM164.11 1607.1H166.01V1670.0H164.11Z" fill="#BA4E93"/>
<path d="M165.78 1596.4H168.39V1644.6H165.78Z" fill="#56508F"/>
<path d="M187.86 1558.4H190.00V1674.8H187.86ZM189.53 1556.0H191.66V1664.1H189.53ZM191.19 1558.4H193.32V1630.8H191.19ZM192.85 1598.8H194.99V1685.4H192.85ZM194.51 1609.4H196.65V1706.8H194.51Z" fill="#FF6161"/>
<path d="M196.18 1628.4H198.31V1700.9H196.18ZM197.84 1614.9H199.98V1706.8H197.84ZM199.50 1614.9H201.64V1696.1H199.50ZM201.16 1616.6H203.30V1696.1H201.16ZM202.82 1616.6H204.96V1696.1H202.82ZM204.25 1617.3H205.91V1696.1H204.25Z" fill="#BA4E93"/>
<path d="M205.68 1617.3H208.29V1703.7H205.68Z" fill="#56508F"/>
<path d="M227.53 1566.7H229.66V1680.0H227.53ZM229.19 1558.4H231.33V1667.6H229.19ZM230.85 1553.2H232.99V1670.0H230.85ZM232.51 1550.1H234.65V1664.1H232.51ZM234.18 1609.4H236.08V1696.1H234.18Z" fill="#FF6161"/>
<path d="M235.60 1633.2H237.74V1709.2H235.60ZM237.26 1624.9H239.40V1696.1H237.26ZM238.93 1623.7H241.06V1706.8H238.93ZM240.59 1622.5H242.49V1700.9H240.59ZM242.01 1622.5H243.91V1706.8H242.01Z" fill="#BA4E93"/>
<path d="M243.68 1617.3H245.81V1682.3H243.68ZM245.34 1556.0H247.71V1636.8H245.34Z" fill="#56508F"/>
<path d="M267.19 1572.6H269.33V1682.3H267.19ZM268.85 1569.8H270.99V1674.8H268.85ZM270.51 1566.7H272.65V1670.0H270.51ZM272.18 1624.9H274.31V1714.7H272.18ZM273.84 1633.2H275.98V1709.2H273.84Z" fill="#FF6161"/>
<path d="M275.50 1635.6H277.64V1704.4H275.50ZM277.16 1636.8H279.30V1702.1H277.16ZM278.83 1627.7H280.96V1700.9H278.83ZM280.49 1635.6H282.62V1702.1H280.49ZM282.15 1635.6H284.05V1709.2H282.15Z" fill="#BA4E93"/>
<path d="M283.58 1633.2H285.71V1696.1H283.58ZM285.24 1622.5H287.61V1700.9H285.24Z" fill="#56508F"/>
<path d="M306.85 1577.4H308.99V1674.8H306.85ZM308.51 1572.6H310.65V1693.0H308.51ZM310.18 1571.4H312.31V1667.6H310.18ZM311.84 1575.0H313.98V1677.1H311.84Z" fill="#FF6161"/>
<path d="M313.74 1635.6H315.88V1694.9H313.74ZM315.40 1635.6H317.54V1717.0H315.40ZM317.06 1635.6H319.20V1702.1H317.06ZM318.73 1641.5H320.62V1709.2H318.73Z" fill="#BA4E93"/>
<path d="M320.39 1646.2H322.52V1711.6H320.39ZM321.81 1646.2H323.71V1719.9H321.81ZM323.24 1641.5H325.14V1690.2H323.24ZM324.66 1609.4H327.27V1685.4H324.66Z" fill="#56508F"/>
<path d="M346.27 1590.4H348.41V1670.0H346.27ZM347.94 1588.1H350.08V1690.2H347.94ZM349.60 1584.5H351.74V1685.4H349.60ZM351.26 1577.4H353.40V1671.9H351.26Z" fill="#FF6161"/>
<path d="M352.93 1641.5H355.06V1722.2H352.93ZM354.59 1643.9H356.73V1706.8H354.59ZM356.25 1643.9H358.39V1706.8H356.25ZM357.91 1643.9H359.81V1709.2H357.91Z" fill="#BA4E93"/>
<path d="M359.34 1635.6H361.48V1709.2H359.34ZM361.00 1639.1H363.14V1722.2H361.00ZM362.43 1596.4H364.32V1689.0H362.43ZM363.61 1585.2H365.51V1670.0H363.61ZM364.80 1596.4H366.94V1690.2H364.80Z" fill="#56508F"/>
<path d="M112.10 1582.1V1629.6M113.76 1582.1V1629.6M115.19 1571.4V1651.0M116.38 1574.5V1651.0M117.80 1575.0V1664.1M118.16 1577.4V1669.3M118.87 1577.4V1664.1M120.17 1577.4V1664.1M121.84 1579.8V1640.3M123.50 1579.8V1640.3M125.16 1579.8V1640.3M126.59 1582.6V1640.3M149.86 1545.3V1610.6M151.52 1609.4V1616.6M153.19 1622.5V1674.8M154.85 1622.5V1661.7M156.51 1617.8V1661.7M157.94 1617.8V1683.1M159.36 1609.4V1687.8M161.03 1609.4V1683.1M162.69 1609.4V1679.5M164.35 1609.4V1670.0M165.89 1607.1V1644.6M189.76 1558.4V1664.1M191.43 1558.4V1630.8M193.09 1598.8V1630.8M194.75 1609.4V1685.4M196.41 1628.4V1700.9M198.07 1628.4V1700.9M199.74 1614.9V1696.1M201.40 1616.6V1696.1M203.06 1616.6V1696.1M204.61 1617.3V1696.1M205.79 1617.3V1696.1M229.43 1566.7V1667.6M231.09 1558.4V1667.6M232.75 1553.2V1664.1M234.41 1609.4V1664.1M235.84 1633.2V1696.1M237.50 1633.2V1696.1M239.16 1624.9V1696.1M240.82 1623.7V1700.9M242.25 1622.5V1700.9M243.79 1622.5V1682.3M245.57 1617.3V1636.8M269.09 1572.6V1674.8M270.75 1569.8V1670.0M272.41 1624.9V1670.0M274.07 1633.2V1709.2M275.74 1635.6V1704.4M277.40 1636.8V1702.1M279.06 1636.8V1700.9M280.73 1635.6V1700.9M282.39 1635.6V1702.1M283.81 1635.6V1696.1M285.48 1633.2V1696.1M308.75 1577.4V1674.8M310.41 1572.6V1667.6M312.07 1575.0V1667.6M313.86 1635.6V1677.1M315.64 1635.6V1694.9M317.30 1635.6V1702.1M318.96 1641.5V1702.1M320.51 1646.2V1709.2M322.17 1646.2V1711.6M323.48 1646.2V1690.2M324.90 1641.5V1685.4M348.18 1590.4V1670.0M349.84 1588.1V1685.4M351.50 1584.5V1671.9M353.16 1641.5V1671.9M354.83 1643.9V1706.8M356.49 1643.9V1706.8M358.15 1643.9V1706.8M359.58 1643.9V1709.2M361.24 1639.1V1709.2M362.78 1639.1V1689.0M363.97 1596.4V1670.0M365.16 1596.4V1670.0" stroke="#EBEBEB" stroke-width="0.11" fill="none"/>
<path d="M89.93 1758.87H95.93M89.93 1692.32H95.93M89.93 1625.77H95.93M89.93 1559.22H95.93M89.93 1492.67H95.93M118.53 1772.18V1777.28M158.23 1772.18V1777.28M197.93 1772.18V1777.28M237.63 1772.18V1777.28M277.33 1772.18V1777.28M317.03 1772.18V1777.28M356.73 1772.18V1777.28" stroke="#333" stroke-width="2.3" fill="none"/>
<text transform="translate(85.93,1765.02) scale(1.06,1)" font-size="16.4" fill="#000" text-anchor="end">0.00</text>
<text transform="translate(85.93,1698.47) scale(1.06,1)" font-size="16.4" fill="#000" text-anchor="end">0.25</text>
<text transform="translate(85.93,1631.92) scale(1.06,1)" font-size="16.4" fill="#000" text-anchor="end">0.50</text>
<text transform="translate(85.93,1565.37) scale(1.06,1)" font-size="16.4" fill="#000" text-anchor="end">0.75</text>
<text transform="translate(85.93,1498.82) scale(1.06,1)" font-size="16.4" fill="#000" text-anchor="end">1.00</text>
<text x="118.53" y="1794.08" font-size="17.0" fill="#000" text-anchor="middle">1</text>
<text x="158.23" y="1794.08" font-size="17.0" fill="#000" text-anchor="middle">2</text>
<text x="197.93" y="1794.08" font-size="17.0" fill="#000" text-anchor="middle">3</text>
<text x="237.63" y="1794.08" font-size="17.0" fill="#000" text-anchor="middle">4</text>
<text x="277.33" y="1794.08" font-size="17.0" fill="#000" text-anchor="middle">5</text>
<text x="317.03" y="1794.08" font-size="17.0" fill="#000" text-anchor="middle">10</text>
<text x="356.73" y="1794.08" font-size="17.0" fill="#000" text-anchor="middle">15</text>
</g>
<g>
<rect x="433.06" y="1445.94" width="283.80" height="33.42" fill="#D9D9D9"/>
<text transform="translate(574.36,1469.34) scale(1.03,1)" font-size="16.6" fill="#1A1A1A" text-anchor="middle">USDMXN</text>
<rect x="433.06" y="1479.36" width="283.80" height="292.82" fill="#EBEBEB"/>
<path d="M433.06 1725.60H716.86M433.06 1659.05H716.86M433.06 1592.50H716.86M433.06 1525.95H716.86M435.81 1479.36V1772.18M475.51 1479.36V1772.18M515.21 1479.36V1772.18M554.91 1479.36V1772.18M594.61 1479.36V1772.18M634.31 1479.36V1772.18M674.01 1479.36V1772.18M713.71 1479.36V1772.18" stroke="#fff" stroke-width="1.6" fill="none"/>
<path d="M433.06 1758.87H716.86M433.06 1692.32H716.86M433.06 1625.77H716.86M433.06 1559.22H716.86M433.06 1492.67H716.86M455.66 1479.36V1772.18M495.36 1479.36V1772.18M535.06 1479.36V1772.18M574.76 1479.36V1772.18M614.46 1479.36V1772.18M654.16 1479.36V1772.18M693.86 1479.36V1772.18" stroke="#fff" stroke-width="2.4" fill="none"/>
<path d="M433.06 1545.91H716.86" stroke="#00FF00" stroke-width="2.1" fill="none"/>
<path d="M433.06 1599.15H716.86" stroke="#0000FF" stroke-width="2.1" stroke-dasharray="8.17 8.17" fill="none"/>
<path d="M445.54 1500.2H447.68V1517.3H445.54ZM447.20 1494.7H449.57V1514.9H447.20ZM449.10 1588.1H451.24V1661.7H449.10ZM450.76 1588.1H452.90V1651.0H450.76ZM452.43 1590.4H454.56V1680.0H452.43Z" fill="#FF6161"/>
<path d="M454.09 1579.8H456.23V1666.4H454.09ZM455.75 1593.5H457.89V1666.4H455.75ZM457.41 1593.5H459.55V1661.7H457.41ZM459.07 1590.4H460.98V1664.1H459.07ZM460.50 1590.4H462.40V1658.6H460.50ZM461.69 1579.8H463.59V1658.1H461.69Z" fill="#BA4E93"/>
<path d="M463.35 1588.1H465.96V1680.0H463.35Z" fill="#56508F"/>
<path d="M485.20 1537.0H487.34V1608.2H485.20ZM486.86 1531.1H489.00V1618.9H486.86ZM488.52 1529.4H490.66V1621.3H488.52ZM490.19 1529.4H492.56V1598.8H490.19ZM492.09 1611.8H494.23V1698.5H492.09Z" fill="#FF6161"/>
<path d="M493.75 1611.8H495.89V1666.4H493.75ZM495.18 1611.8H497.07V1711.6H495.18ZM496.60 1609.4H498.74V1693.8H496.60ZM498.26 1607.1H500.40V1693.0H498.26ZM499.93 1607.1H501.82V1674.8H499.93Z" fill="#BA4E93"/>
<path d="M501.35 1601.1H503.49V1664.1H501.35ZM502.77 1593.5H505.62V1666.4H502.77Z" fill="#56508F"/>
<path d="M525.10 1550.5H527.24V1648.2H525.10ZM526.76 1542.9H528.90V1641.5H526.76ZM528.42 1547.7H530.56V1683.1H528.42ZM530.09 1545.3H532.23V1682.3H530.09ZM531.75 1545.3H533.65V1639.1H531.75Z" fill="#FF6161"/>
<path d="M533.17 1624.9H535.31V1693.0H533.17ZM534.84 1622.5H536.98V1693.8H534.84ZM536.50 1622.5H538.64V1696.1H536.50Z" fill="#BA4E93"/>
<path d="M538.16 1628.4H540.30V1683.1H538.16ZM539.83 1615.4H541.96V1687.8H539.83ZM541.49 1607.1H543.62V1655.8H541.49ZM542.91 1593.5H545.52V1653.4H542.91Z" fill="#56508F"/>
<path d="M564.52 1550.5H566.66V1648.2H564.52ZM566.19 1551.2H568.33V1653.4H566.19ZM567.85 1553.6H569.99V1666.4H567.85ZM569.51 1554.8H571.65V1664.1H569.51ZM571.17 1556.0H573.08V1632.0H571.17Z" fill="#FF6161"/>
<path d="M572.36 1633.2H574.50V1709.2H572.36ZM574.02 1622.5H576.16V1719.9H574.02ZM575.69 1620.1H577.83V1702.1H575.69ZM577.35 1627.2H579.25V1691.4H577.35Z" fill="#BA4E93"/>
<path d="M578.77 1622.5H580.91V1665.2H578.77ZM580.20 1611.8H582.34V1685.4H580.20ZM581.62 1603.5H583.52V1655.8H581.62ZM583.05 1590.4H585.19V1643.9H583.05Z" fill="#56508F"/>
<path d="M604.19 1575.0H606.33V1671.9H604.19ZM605.85 1572.6H607.99V1674.8H605.85ZM607.27 1556.0H609.17V1677.1H607.27ZM608.70 1569.8H610.84V1677.1H608.70ZM610.12 1572.6H612.02V1651.0H610.12Z" fill="#FF6161"/>
<path d="M611.31 1635.6H613.45V1717.0H611.31ZM612.98 1630.8H615.11V1693.8H612.98ZM614.64 1630.8H616.77V1706.8H614.64ZM616.30 1641.5H618.20V1700.9H616.30Z" fill="#BA4E93"/>
<path d="M617.73 1622.5H619.86V1700.9H617.73ZM619.15 1622.5H621.29V1698.5H619.15ZM620.58 1603.5H622.71V1698.5H620.58ZM622.00 1574.5H624.61V1655.8H622.00Z" fill="#56508F"/>
<path d="M643.85 1582.6H645.99V1666.4H643.85ZM645.51 1577.4H647.65V1681.9H645.51ZM647.17 1579.8H649.31V1690.2H647.17ZM648.84 1585.7H650.98V1667.6H648.84Z" fill="#FF6161"/>
<path d="M650.50 1630.8H652.64V1706.8H650.50ZM652.16 1635.6H654.30V1711.6H652.16ZM653.83 1637.9H655.96V1719.9H653.83ZM655.49 1646.2H657.39V1713.9H655.49Z" fill="#BA4E93"/>
<path d="M656.91 1648.6H659.05V1706.8H656.91ZM658.58 1641.5H660.71V1704.4H658.58ZM660.00 1628.4H661.90V1703.2H660.00ZM661.19 1614.9H663.09V1693.8H661.19ZM662.61 1620.1H664.75V1687.8H662.61Z" fill="#56508F"/>
<path d="M683.51 1579.8H685.65V1680.0H683.51ZM685.17 1582.6H687.31V1687.8H685.17ZM686.84 1584.5H688.98V1679.5H686.84ZM688.50 1582.6H690.64V1670.0H688.50Z" fill="#FF6161"/>
<path d="M690.16 1582.6H692.30V1677.1H690.16ZM691.83 1633.2H693.96V1722.2H691.83ZM693.25 1646.2H695.15V1717.0H693.25ZM694.67 1654.6H696.58V1709.2H694.67Z" fill="#BA4E93"/>
<path d="M696.10 1641.5H698.24V1703.2H696.10ZM697.76 1636.8H699.90V1703.2H697.76ZM699.42 1635.6H701.33V1719.9H699.42ZM700.85 1633.2H702.75V1698.5H700.85ZM702.28 1630.8H704.41V1687.8H702.28Z" fill="#56508F"/>
<path d="M447.44 1500.2V1514.9M451.00 1588.1V1651.0M452.66 1590.4V1651.0M454.32 1590.4V1666.4M455.99 1593.5V1666.4M457.65 1593.5V1661.7M459.31 1593.5V1661.7M460.74 1590.4V1658.6M462.04 1590.4V1658.1M463.47 1588.1V1658.1M487.10 1537.0V1608.2M488.76 1531.1V1618.9M490.43 1529.4V1598.8M493.99 1611.8V1666.4M495.53 1611.8V1666.4M496.84 1611.8V1693.8M498.50 1609.4V1693.0M500.16 1607.1V1674.8M501.59 1607.1V1664.1M503.13 1601.1V1664.1M527.00 1550.5V1641.5M528.66 1547.7V1641.5M530.33 1547.7V1682.3M531.99 1545.3V1639.1M533.41 1624.9V1639.1M535.08 1624.9V1693.0M536.74 1622.5V1693.8M538.40 1628.4V1683.1M540.06 1628.4V1683.1M541.72 1615.4V1655.8M543.27 1607.1V1653.4M566.42 1551.2V1648.2M568.09 1553.6V1653.4M569.75 1554.8V1664.1M571.41 1556.0V1632.0M574.26 1633.2V1709.2M575.92 1622.5V1702.1M577.59 1627.2V1691.4M579.01 1627.2V1665.2M580.56 1622.5V1665.2M581.98 1611.8V1655.8M583.29 1603.5V1643.9M606.09 1575.0V1671.9M607.63 1572.6V1674.8M608.94 1569.8V1677.1M610.48 1572.6V1651.0M611.67 1635.6V1651.0M613.21 1635.6V1693.8M614.88 1630.8V1693.8M616.54 1641.5V1700.9M617.96 1641.5V1700.9M619.51 1622.5V1698.5M620.93 1622.5V1698.5M622.36 1603.5V1655.8M645.75 1582.6V1666.4M647.41 1579.8V1681.9M649.08 1585.7V1667.6M650.74 1630.8V1667.6M652.40 1635.6V1706.8M654.06 1637.9V1711.6M655.72 1646.2V1713.9M657.15 1648.6V1706.8M658.81 1648.6V1704.4M660.36 1641.5V1703.2M661.54 1628.4V1693.8M662.85 1620.1V1687.8M685.41 1582.6V1680.0M687.08 1584.5V1679.5M688.74 1584.5V1670.0M690.40 1582.6V1670.0M692.06 1633.2V1677.1M693.61 1646.2V1717.0M694.91 1654.6V1709.2M696.34 1654.6V1703.2M698.00 1641.5V1703.2M699.66 1636.8V1703.2M701.09 1635.6V1698.5M702.51 1633.2V1687.8" stroke="#EBEBEB" stroke-width="0.11" fill="none"/>
<path d="M427.06 1758.87H433.06M427.06 1692.32H433.06M427.06 1625.77H433.06M427.06 1559.22H433.06M427.06 1492.67H433.06M455.66 1772.18V1777.28M495.36 1772.18V1777.28M535.06 1772.18V1777.28M574.76 1772.18V1777.28M614.46 1772.18V1777.28M654.16 1772.18V1777.28M693.86 1772.18V1777.28" stroke="#333" stroke-width="2.3" fill="none"/>
<text transform="translate(423.06,1765.02) scale(1.06,1)" font-size="16.4" fill="#000" text-anchor="end">0.00</text>
<text transform="translate(423.06,1698.47) scale(1.06,1)" font-size="16.4" fill="#000" text-anchor="end">0.25</text>
<text transform="translate(423.06,1631.92) scale(1.06,1)" font-size="16.4" fill="#000" text-anchor="end">0.50</text>
<text transform="translate(423.06,1565.37) scale(1.06,1)" font-size="16.4" fill="#000" text-anchor="end">0.75</text>
<text transform="translate(423.06,1498.82) scale(1.06,1)" font-size="16.4" fill="#000" text-anchor="end">1.00</text>
<text x="455.66" y="1794.08" font-size="17.0" fill="#000" text-anchor="middle">1</text>
<text x="495.36" y="1794.08" font-size="17.0" fill="#000" text-anchor="middle">2</text>
<text x="535.06" y="1794.08" font-size="17.0" fill="#000" text-anchor="middle">3</text>
<text x="574.76" y="1794.08" font-size="17.0" fill="#000" text-anchor="middle">4</text>
<text x="614.46" y="1794.08" font-size="17.0" fill="#000" text-anchor="middle">5</text>
<text x="654.16" y="1794.08" font-size="17.0" fill="#000" text-anchor="middle">10</text>
<text x="693.86" y="1794.08" font-size="17.0" fill="#000" text-anchor="middle">15</text>
</g>
<g>
<rect x="770.19" y="1445.94" width="283.80" height="33.42" fill="#D9D9D9"/>
<text transform="translate(911.49,1469.34) scale(1.03,1)" font-size="16.6" fill="#1A1A1A" text-anchor="middle">USDRUB</text>
<rect x="770.19" y="1479.36" width="283.80" height="292.82" fill="#EBEBEB"/>
<path d="M770.19 1725.60H1053.99M770.19 1659.05H1053.99M770.19 1592.50H1053.99M770.19 1525.95H1053.99M772.94 1479.36V1772.18M812.64 1479.36V1772.18M852.34 1479.36V1772.18M892.04 1479.36V1772.18M931.74 1479.36V1772.18M971.44 1479.36V1772.18M1011.14 1479.36V1772.18M1050.84 1479.36V1772.18" stroke="#fff" stroke-width="1.6" fill="none"/>
<path d="M770.19 1758.87H1053.99M770.19 1692.32H1053.99M770.19 1625.77H1053.99M770.19 1559.22H1053.99M770.19 1492.67H1053.99M792.79 1479.36V1772.18M832.49 1479.36V1772.18M872.19 1479.36V1772.18M911.89 1479.36V1772.18M951.59 1479.36V1772.18M991.29 1479.36V1772.18M1030.99 1479.36V1772.18" stroke="#fff" stroke-width="2.4" fill="none"/>
<path d="M770.19 1545.91H1053.99" stroke="#00FF00" stroke-width="2.1" fill="none"/>
<path d="M770.19 1599.15H1053.99" stroke="#0000FF" stroke-width="2.1" stroke-dasharray="8.17 8.17" fill="none"/>
<path d="M782.77 1497.1H784.91V1519.9H782.77ZM784.44 1497.1H786.81V1514.9H784.44ZM786.34 1585.2H788.48V1674.8H786.34ZM788.00 1596.4H790.14V1651.0H788.00ZM789.66 1598.8H791.80V1695.7H789.66Z" fill="#FF6161"/>
<path d="M791.56 1588.1H793.70V1646.2H791.56ZM793.23 1593.5H795.36V1648.6H793.23ZM794.89 1582.6H797.02V1658.1H794.89ZM796.31 1582.6H798.21V1666.4H796.31ZM797.74 1593.5H799.64V1647.4H797.74ZM799.16 1584.5H800.83V1643.9H799.16Z" fill="#BA4E93"/>
<path d="M800.35 1579.8H802.96V1642.7H800.35Z" fill="#56508F"/>
<path d="M822.44 1545.3H824.58V1639.6H822.44ZM824.10 1542.2H826.24V1627.2H824.10ZM825.76 1539.4H827.90V1626.1H825.76ZM827.42 1531.8H829.56V1617.8H827.42ZM829.09 1603.5H831.23V1693.0H829.09Z" fill="#FF6161"/>
<path d="M830.75 1614.9H832.89V1693.0H830.75ZM832.41 1607.1H834.31V1703.7H832.41ZM833.84 1613.0H835.98V1683.1H833.84ZM835.50 1607.1H837.64V1672.4H835.50ZM837.16 1605.9H839.06V1682.3H837.16Z" fill="#BA4E93"/>
<path d="M838.59 1588.1H840.73V1654.6H838.59ZM840.01 1596.4H842.62V1674.8H840.01Z" fill="#56508F"/>
<path d="M862.10 1566.7H864.24V1645.1H862.10ZM863.76 1556.0H865.90V1642.7H863.76ZM865.42 1556.0H867.56V1632.0H865.42ZM867.09 1617.8H869.23V1693.0H867.09ZM868.75 1620.1H870.65V1691.4H868.75Z" fill="#FF6161"/>
<path d="M870.17 1633.2H872.31V1703.7H870.17ZM871.84 1630.8H873.98V1687.8H871.84ZM873.50 1628.4H875.64V1706.8H873.50ZM875.16 1622.5H877.06V1687.8H875.16Z" fill="#BA4E93"/>
<path d="M876.59 1609.4H878.73V1683.1H876.59ZM878.25 1603.5H880.39V1677.1H878.25ZM879.67 1593.5H882.52V1668.8H879.67Z" fill="#56508F"/>
<path d="M901.76 1564.3H903.90V1629.2H901.76ZM903.42 1566.7H905.56V1650.5H903.42ZM905.09 1561.9H907.23V1653.4H905.09ZM906.75 1558.4H909.12V1646.2H906.75Z" fill="#FF6161"/>
<path d="M908.89 1637.9H911.02V1709.2H908.89ZM910.55 1630.8H912.69V1700.9H910.55ZM912.21 1626.1H914.35V1699.7H912.21ZM913.88 1624.9H915.77V1693.8H913.88Z" fill="#BA4E93"/>
<path d="M915.54 1609.4H917.67V1711.6H915.54ZM917.20 1615.4H919.34V1690.2H917.20ZM918.62 1613.0H920.52V1690.2H918.62ZM920.05 1601.6H922.19V1677.1H920.05Z" fill="#56508F"/>
<path d="M941.19 1579.8H943.33V1677.1H941.19ZM942.85 1575.0H944.99V1685.4H942.85ZM944.51 1575.0H946.65V1664.1H944.51ZM946.17 1574.5H948.31V1658.1H946.17ZM947.60 1579.8H949.50V1665.2H947.60Z" fill="#FF6161"/>
<path d="M948.79 1620.1H950.92V1683.1H948.79ZM950.45 1622.5H952.59V1700.9H950.45ZM952.11 1627.2H954.25V1702.1H952.11ZM953.77 1630.8H955.91V1722.2H953.77Z" fill="#BA4E93"/>
<path d="M955.44 1630.8H957.58V1704.4H955.44ZM957.10 1609.4H959.24V1685.4H957.10ZM958.52 1609.4H960.42V1702.1H958.52ZM959.71 1614.9H961.85V1700.9H959.71Z" fill="#56508F"/>
<path d="M980.85 1582.6H982.99V1658.1H980.85ZM982.51 1571.4H984.65V1664.1H982.51ZM984.17 1577.4H986.31V1685.4H984.17ZM985.84 1577.4H987.98V1687.8H985.84Z" fill="#FF6161"/>
<path d="M987.50 1577.4H989.64V1670.0H987.50ZM989.16 1628.4H991.30V1703.2H989.16ZM990.83 1641.5H992.96V1700.9H990.83ZM992.49 1643.9H994.39V1696.1H992.49Z" fill="#BA4E93"/>
<path d="M993.91 1635.6H996.05V1703.2H993.91ZM995.58 1635.6H997.71V1709.2H995.58ZM997.24 1635.6H999.38V1703.2H997.24ZM998.90 1630.1H1001.75V1685.4H998.90Z" fill="#56508F"/>
<path d="M1020.75 1593.5H1022.89V1664.1H1020.75ZM1022.41 1566.7H1024.55V1669.3H1022.41ZM1024.08 1582.6H1026.21V1667.6H1024.08ZM1025.74 1582.6H1027.88V1665.2H1025.74Z" fill="#FF6161"/>
<path d="M1027.16 1582.6H1029.30V1672.4H1027.16ZM1028.83 1633.2H1030.96V1704.4H1028.83ZM1030.49 1633.2H1032.62V1706.8H1030.49ZM1032.15 1635.6H1034.29V1719.9H1032.15Z" fill="#BA4E93"/>
<path d="M1033.81 1643.9H1035.95V1706.8H1033.81ZM1035.47 1641.5H1037.61V1705.6H1035.47ZM1037.14 1635.6H1039.28V1704.4H1037.14ZM1038.56 1638.7H1041.41V1703.2H1038.56Z" fill="#56508F"/>
<path d="M784.67 1497.1V1514.9M788.24 1596.4V1651.0M789.90 1598.8V1651.0M791.68 1598.8V1646.2M793.46 1593.5V1646.2M795.12 1593.5V1648.6M796.67 1582.6V1658.1M797.97 1593.5V1647.4M799.40 1593.5V1643.9M800.59 1584.5V1642.7M824.34 1545.3V1627.2M826.00 1542.2V1626.1M827.66 1539.4V1617.8M829.33 1603.5V1617.8M830.99 1614.9V1693.0M832.65 1614.9V1693.0M834.08 1613.0V1683.1M835.74 1613.0V1672.4M837.40 1607.1V1672.4M838.83 1605.9V1654.6M840.37 1596.4V1654.6M864.00 1566.7V1642.7M865.66 1556.0V1632.0M867.33 1617.8V1632.0M868.99 1620.1V1691.4M870.41 1633.2V1691.4M872.08 1633.2V1687.8M873.74 1630.8V1687.8M875.40 1628.4V1687.8M876.83 1622.5V1683.1M878.49 1609.4V1677.1M880.03 1603.5V1668.8M903.66 1566.7V1629.2M905.33 1566.7V1650.5M906.99 1561.9V1646.2M909.01 1637.9V1646.2M910.79 1637.9V1700.9M912.45 1630.8V1699.7M914.11 1626.1V1693.8M915.66 1624.9V1693.8M917.44 1615.4V1690.2M918.98 1615.4V1690.2M920.29 1613.0V1677.1M943.09 1579.8V1677.1M944.75 1575.0V1664.1M946.41 1575.0V1658.1M947.96 1579.8V1658.1M949.14 1620.1V1665.2M950.69 1622.5V1683.1M952.35 1627.2V1700.9M954.01 1630.8V1702.1M955.67 1630.8V1704.4M957.34 1630.8V1685.4M958.88 1609.4V1685.4M960.07 1614.9V1700.9M982.75 1582.6V1658.1M984.41 1577.4V1664.1M986.08 1577.4V1685.4M987.74 1577.4V1670.0M989.40 1628.4V1670.0M991.06 1641.5V1700.9M992.72 1643.9V1696.1M994.15 1643.9V1696.1M995.81 1635.6V1703.2M997.47 1635.6V1703.2M999.14 1635.6V1685.4M1022.65 1593.5V1664.1M1024.31 1582.6V1667.6M1025.97 1582.6V1665.2M1027.52 1582.6V1665.2M1029.06 1633.2V1672.4M1030.72 1633.2V1704.4M1032.39 1635.6V1706.8M1034.05 1643.9V1706.8M1035.71 1643.9V1705.6M1037.38 1641.5V1704.4M1038.92 1638.7V1703.2" stroke="#EBEBEB" stroke-width="0.11" fill="none"/>
<path d="M764.19 1758.87H770.19M764.19 1692.32H770.19M764.19 1625.77H770.19M764.19 1559.22H770.19M764.19 1492.67H770.19M792.79 1772.18V1777.28M832.49 1772.18V1777.28M872.19 1772.18V1777.28M911.89 1772.18V1777.28M951.59 1772.18V1777.28M991.29 1772.18V1777.28M1030.99 1772.18V1777.28" stroke="#333" stroke-width="2.3" fill="none"/>
<text transform="translate(760.19,1765.02) scale(1.06,1)" font-size="16.4" fill="#000" text-anchor="end">0.00</text>
<text transform="translate(760.19,1698.47) scale(1.06,1)" font-size="16.4" fill="#000" text-anchor="end">0.25</text>
<text transform="translate(760.19,1631.92) scale(1.06,1)" font-size="16.4" fill="#000" text-anchor="end">0.50</text>
<text transform="translate(760.19,1565.37) scale(1.06,1)" font-size="16.4" fill="#000" text-anchor="end">0.75</text>
<text transform="translate(760.19,1498.82) scale(1.06,1)" font-size="16.4" fill="#000" text-anchor="end">1.00</text>
<text x="792.79" y="1794.08" font-size="17.0" fill="#000" text-anchor="middle">1</text>
<text x="832.49" y="1794.08" font-size="17.0" fill="#000" text-anchor="middle">2</text>
<text x="872.19" y="1794.08" font-size="17.0" fill="#000" text-anchor="middle">3</text>
<text x="911.89" y="1794.08" font-size="17.0" fill="#000" text-anchor="middle">4</text>
<text x="951.59" y="1794.08" font-size="17.0" fill="#000" text-anchor="middle">5</text>
<text x="991.29" y="1794.08" font-size="17.0" fill="#000" text-anchor="middle">10</text>
<text x="1030.99" y="1794.08" font-size="17.0" fill="#000" text-anchor="middle">15</text>
</g>
<text x="595.70" y="1839.00" font-size="25.3" fill="#000" text-anchor="middle">Horizon (trading days)</text>
<text transform="translate(21.8,872.75) rotate(-90)" font-size="25.2" fill="#000" text-anchor="middle">F score (minimum to maximum)</text>
<text transform="translate(1084.40,854.90) scale(1.075,1)" font-size="19.8" fill="#000" text-anchor="start">Threshold</text>
<rect x="1085.2" y="867.9" width="32.8" height="99" fill="#F2F2F2"/>
<path d="M1088.7 884.00H1115.5" stroke="#FF6161" stroke-width="2.0" fill="none"/>
<text transform="translate(1128.60,889.80) scale(1.07,1)" font-size="16.2" fill="#000" text-anchor="start">Small</text>
<path d="M1088.7 917.05H1115.5" stroke="#BA4E93" stroke-width="2.0" fill="none"/>
<text transform="translate(1128.60,922.85) scale(1.07,1)" font-size="16.2" fill="#000" text-anchor="start">Medium</text>
<path d="M1088.7 950.10H1115.5" stroke="#56508F" stroke-width="2.0" fill="none"/>
<text transform="translate(1128.60,955.90) scale(1.07,1)" font-size="16.2" fill="#000" text-anchor="start">Large</text>
</svg>
</body></html>
